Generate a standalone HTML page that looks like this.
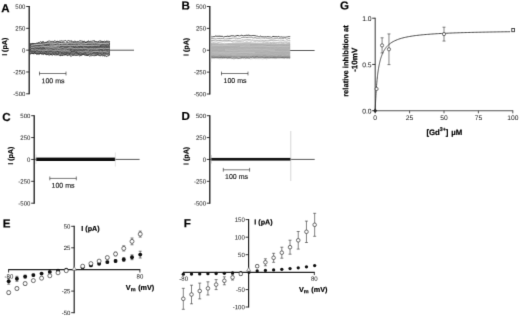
<!DOCTYPE html>
<html><head><meta charset="utf-8"><title>Figure</title>
<style>
html,body{margin:0;padding:0;background:#fff;}
body{width:520px;height:318px;overflow:hidden;font-family:"Liberation Sans",sans-serif;}
svg{display:block;}
svg text{font-family:"Liberation Sans",sans-serif;fill:#111;}
svg text[font-weight=bold]{fill:#000;stroke:#000;stroke-width:0.18px;}
</style></head><body>
<svg width="520" height="318" viewBox="0 0 520 318">
<defs><filter id="soft" x="0" y="0" width="520" height="318" filterUnits="userSpaceOnUse" color-interpolation-filters="sRGB"><feConvolveMatrix order="3" kernelMatrix="0 1 0 1 7 1 0 1 0" divisor="11" edgeMode="duplicate" preserveAlpha="true"/></filter></defs>
<g filter="url(#soft)">
<rect x="-5" y="-5" width="530" height="328" fill="#fff"/>
<line x1="29.2" y1="6.0" x2="29.2" y2="94.3" stroke="#1a1a1a" stroke-width="1.3" />
<line x1="26.2" y1="6.5" x2="29.2" y2="6.5" stroke="#222" stroke-width="0.9" />
<text x="25.4" y="8.75" font-size="6.05" text-anchor="end" transform="rotate(0.03 25.4 8.75)" >500</text>
<line x1="26.2" y1="28.325" x2="29.2" y2="28.325" stroke="#222" stroke-width="0.9" />
<text x="25.4" y="30.575" font-size="6.05" text-anchor="end" transform="rotate(0.03 25.4 30.575)" >250</text>
<line x1="26.2" y1="50.15" x2="29.2" y2="50.15" stroke="#222" stroke-width="0.9" />
<text x="25.4" y="52.4" font-size="6.05" text-anchor="end" transform="rotate(0.03 25.4 52.4)" >0</text>
<line x1="26.2" y1="71.975" x2="29.2" y2="71.975" stroke="#222" stroke-width="0.9" />
<text x="25.4" y="74.225" font-size="6.05" text-anchor="end" transform="rotate(0.03 25.4 74.225)" >-250</text>
<line x1="26.2" y1="93.8" x2="29.2" y2="93.8" stroke="#222" stroke-width="0.9" />
<text x="25.4" y="96.05" font-size="6.05" text-anchor="end" transform="rotate(0.03 25.4 96.05)" >-500</text>
<text x="1.2" y="12.3" font-size="11.6" font-weight="bold" text-anchor="start" transform="rotate(0.03 1.2 12.3)" stroke="#000" stroke-width="0.3">A</text>
<text transform="translate(7.1,46.8) rotate(-89.97)" font-size="7.1" font-weight="bold" text-anchor="middle">I (pA)</text>
<line x1="39.5" y1="73.5" x2="66" y2="73.5" stroke="#222" stroke-width="0.6" />
<line x1="39.5" y1="71.6" x2="39.5" y2="75.4" stroke="#222" stroke-width="0.6" />
<line x1="66" y1="71.6" x2="66" y2="75.4" stroke="#222" stroke-width="0.6" />
<text x="53" y="83.3" font-size="7" text-anchor="middle" transform="rotate(0.03 53 83.3)" fill="#000" stroke="#000" stroke-width="0.12">100 ms</text>
<line x1="109.5" y1="50.2" x2="134" y2="50.2" stroke="#111" stroke-width="0.7" />
<path d="M30.0,43.39 L30.8,43.83 L31.6,43.20 L32.4,43.52 L33.2,42.95 L34.0,43.35 L34.8,43.82 L35.6,43.40 L36.4,44.07 L37.2,43.14 L38.0,42.96 L38.8,42.67 L39.6,42.73 L40.4,42.99 L41.2,42.09 L42.0,41.69 L42.8,41.43 L43.6,41.51 L44.4,42.92 L45.2,42.65 L46.0,42.14 L46.8,41.90 L47.6,41.75 L48.4,41.77 L49.2,42.19 L50.0,41.95 L50.8,41.94 L51.6,41.96 L52.4,42.10 L53.2,41.73 L54.0,41.80 L54.8,42.12 L55.6,41.93 L56.4,41.74 L57.2,41.58 L58.0,41.07 L58.8,41.47 L59.6,41.81 L60.4,41.92 L61.2,41.79 L62.0,42.24 L62.8,41.71 L63.6,41.77 L64.4,41.93 L65.2,42.67 L66.0,42.24 L66.8,41.94 L67.6,41.75 L68.4,42.10 L69.2,41.95 L70.0,41.59 L70.8,42.03 L71.6,41.19 L72.4,41.52 L73.2,42.08 L74.0,41.88 L74.8,41.58 L75.6,41.94 L76.4,42.09 L77.2,41.69 L78.0,42.53 L78.8,42.18 L79.6,41.98 L80.4,41.60 L81.2,41.97 L82.0,42.11 L82.8,41.27 L83.6,41.25 L84.4,41.66 L85.2,41.94 L86.0,41.69 L86.8,41.86 L87.6,41.60 L88.4,41.23 L89.2,41.98 L90.0,41.62 L90.8,41.71 L91.6,42.45 L92.4,41.66 L93.2,42.10 L94.0,41.27 L94.8,41.01 L95.6,41.78 L96.4,41.58 L97.2,41.48 L98.0,41.61 L98.8,41.26 L99.6,41.89 L100.4,41.17 L101.2,41.57 L102.0,41.22 L102.8,40.85 L103.6,41.58 L104.4,42.20 L105.2,41.70 L106.0,41.41 L106.8,40.76 L107.6,41.59 L108.4,41.95 L109.2,41.42 L110.0,41.21 L110.0,55.58 L109.2,55.20 L108.4,55.50 L107.6,55.10 L106.8,55.12 L106.0,55.21 L105.2,55.70 L104.4,55.90 L103.6,55.70 L102.8,55.04 L102.0,55.26 L101.2,55.50 L100.4,55.44 L99.6,55.55 L98.8,55.47 L98.0,55.20 L97.2,55.73 L96.4,55.70 L95.6,55.51 L94.8,55.75 L94.0,54.75 L93.2,54.95 L92.4,54.73 L91.6,54.94 L90.8,55.54 L90.0,55.01 L89.2,54.90 L88.4,55.36 L87.6,55.89 L86.8,55.66 L86.0,55.58 L85.2,55.20 L84.4,55.33 L83.6,54.99 L82.8,55.30 L82.0,55.48 L81.2,55.50 L80.4,55.55 L79.6,55.18 L78.8,54.67 L78.0,55.22 L77.2,54.91 L76.4,55.15 L75.6,55.06 L74.8,54.88 L74.0,54.75 L73.2,55.51 L72.4,55.15 L71.6,54.78 L70.8,54.94 L70.0,56.02 L69.2,55.06 L68.4,54.59 L67.6,54.95 L66.8,55.19 L66.0,55.59 L65.2,55.34 L64.4,54.70 L63.6,54.81 L62.8,55.65 L62.0,55.53 L61.2,54.88 L60.4,54.35 L59.6,54.48 L58.8,54.85 L58.0,55.00 L57.2,54.99 L56.4,55.16 L55.6,54.59 L54.8,54.73 L54.0,54.85 L53.2,54.38 L52.4,54.63 L51.6,54.95 L50.8,54.88 L50.0,54.72 L49.2,54.78 L48.4,54.43 L47.6,54.51 L46.8,54.72 L46.0,54.70 L45.2,54.65 L44.4,54.02 L43.6,54.00 L42.8,54.25 L42.0,53.94 L41.2,54.14 L40.4,54.11 L39.6,54.62 L38.8,54.42 L38.0,54.02 L37.2,54.44 L36.4,54.28 L35.6,54.01 L34.8,53.56 L34.0,53.45 L33.2,54.24 L32.4,53.77 L31.6,53.48 L30.8,53.38 L30.0,53.04 Z" fill="#858585"/>
<path d="M30.0,43.94 L30.7,43.65 L31.4,43.79 L32.1,43.32 L32.8,43.78 L33.5,43.74 L34.2,43.65 L34.9,43.49 L35.6,43.52 L36.3,43.34 L37.0,42.74 L37.7,43.10 L38.4,42.54 L39.1,42.79 L39.8,42.05 L40.5,41.70 L41.2,42.13 L41.9,42.33 L42.6,41.85 L43.3,41.80 L44.0,42.07 L44.7,42.54 L45.4,42.32 L46.1,42.93 L46.8,41.70 L47.5,41.51 L48.2,41.14 L48.9,41.26 L49.6,41.02 L50.3,41.38 L51.0,41.31 L51.7,41.44 L52.4,41.34 L53.1,41.84 L53.8,41.28 L54.5,40.96 L55.2,40.69 L55.9,41.61 L56.6,41.46 L57.3,41.27 L58.0,41.35 L58.7,41.83 L59.4,41.18 L60.1,41.11 L60.8,41.02 L61.5,40.84 L62.2,41.31 L62.9,40.81 L63.6,41.15 L64.3,40.95 L65.0,40.72 L65.7,40.53 L66.4,41.36 L67.1,40.96 L67.8,41.08 L68.5,40.55 L69.2,40.81 L69.9,41.19 L70.6,41.03 L71.3,41.17 L72.0,40.75 L72.7,41.45 L73.4,41.86 L74.1,41.57 L74.8,40.81 L75.5,41.86 L76.2,41.80 L76.9,41.79 L77.6,41.43 L78.3,41.72 L79.0,40.98 L79.7,40.95 L80.4,40.80 L81.1,40.98 L81.8,41.14 L82.5,41.26 L83.2,41.73 L83.9,41.01 L84.6,41.23 L85.3,42.25 L86.0,42.64 L86.7,41.70 L87.4,41.88 L88.1,40.79 L88.8,41.01 L89.5,41.91 L90.2,41.50 L90.9,41.12 L91.6,41.30 L92.3,41.15 L93.0,40.76 L93.7,40.81 L94.4,40.74 L95.1,41.09 L95.8,42.15 L96.5,41.68 L97.2,42.17 L97.9,41.82 L98.6,41.40 L99.3,41.12 L100.0,40.72 L100.7,40.96 L101.4,41.24 L102.1,41.93 L102.8,41.76 L103.5,41.54 L104.2,41.32 L104.9,41.19 L105.6,41.80 L106.3,41.07 L107.0,40.96 L107.7,41.31 L108.4,41.27 L109.1,41.50 L109.8,41.57" fill="none" stroke="#1c1c1c" stroke-width="0.8"/>
<path d="M30.0,44.90 L30.7,44.57 L31.4,44.71 L32.1,43.87 L32.8,43.96 L33.5,44.03 L34.2,43.81 L34.9,44.67 L35.6,44.56 L36.3,43.89 L37.0,43.78 L37.7,43.84 L38.4,44.02 L39.1,44.22 L39.8,43.82 L40.5,43.71 L41.2,43.32 L41.9,43.34 L42.6,43.24 L43.3,44.05 L44.0,43.98 L44.7,43.65 L45.4,43.25 L46.1,43.85 L46.8,43.45 L47.5,42.99 L48.2,42.67 L48.9,42.99 L49.6,43.00 L50.3,43.09 L51.0,43.29 L51.7,43.28 L52.4,43.52 L53.1,42.69 L53.8,43.29 L54.5,43.09 L55.2,42.29 L55.9,42.70 L56.6,42.59 L57.3,43.16 L58.0,43.42 L58.7,42.94 L59.4,43.08 L60.1,42.34 L60.8,42.38 L61.5,43.20 L62.2,42.59 L62.9,42.58 L63.6,43.03 L64.3,43.13 L65.0,43.30 L65.7,43.32 L66.4,43.49 L67.1,42.46 L67.8,42.63 L68.5,42.44 L69.2,42.32 L69.9,42.26 L70.6,42.55 L71.3,42.43 L72.0,42.89 L72.7,43.27 L73.4,43.04 L74.1,43.31 L74.8,42.27 L75.5,42.69 L76.2,42.86 L76.9,42.95 L77.6,42.67 L78.3,42.92 L79.0,43.27 L79.7,42.99 L80.4,43.13 L81.1,43.09 L81.8,43.35 L82.5,42.24 L83.2,42.36 L83.9,43.59 L84.6,43.38 L85.3,42.72 L86.0,42.82 L86.7,42.78 L87.4,43.36 L88.1,42.81 L88.8,42.79 L89.5,43.07 L90.2,42.99 L90.9,43.32 L91.6,42.30 L92.3,42.64 L93.0,43.27 L93.7,43.88 L94.4,43.80 L95.1,43.68 L95.8,43.29 L96.5,42.72 L97.2,43.33 L97.9,43.32 L98.6,43.18 L99.3,43.18 L100.0,43.13 L100.7,42.53 L101.4,43.17 L102.1,42.96 L102.8,43.27 L103.5,42.56 L104.2,42.47 L104.9,43.09 L105.6,42.15 L106.3,42.83 L107.0,43.31 L107.7,43.07 L108.4,42.63 L109.1,43.99 L109.8,43.54" fill="none" stroke="#2c2c2c" stroke-width="0.62"/>
<path d="M30.0,45.74 L30.7,45.51 L31.4,45.61 L32.1,45.33 L32.8,45.59 L33.5,45.60 L34.2,46.08 L34.9,45.74 L35.6,45.68 L36.3,45.68 L37.0,45.20 L37.7,45.44 L38.4,45.55 L39.1,45.60 L39.8,45.48 L40.5,45.16 L41.2,45.42 L41.9,44.63 L42.6,44.74 L43.3,44.51 L44.0,44.56 L44.7,44.18 L45.4,45.07 L46.1,44.49 L46.8,44.83 L47.5,44.38 L48.2,44.72 L48.9,43.89 L49.6,44.29 L50.3,44.71 L51.0,44.91 L51.7,44.41 L52.4,44.85 L53.1,45.12 L53.8,44.56 L54.5,44.89 L55.2,44.51 L55.9,44.77 L56.6,44.09 L57.3,43.98 L58.0,44.06 L58.7,45.17 L59.4,45.57 L60.1,44.70 L60.8,44.46 L61.5,45.53 L62.2,45.27 L62.9,45.52 L63.6,45.01 L64.3,44.98 L65.0,45.00 L65.7,44.74 L66.4,45.00 L67.1,45.78 L67.8,45.05 L68.5,44.52 L69.2,44.25 L69.9,44.48 L70.6,44.76 L71.3,45.01 L72.0,44.65 L72.7,44.39 L73.4,44.22 L74.1,44.38 L74.8,44.40 L75.5,45.01 L76.2,44.44 L76.9,44.07 L77.6,44.28 L78.3,43.18 L79.0,44.16 L79.7,43.99 L80.4,43.43 L81.1,43.46 L81.8,43.24 L82.5,43.81 L83.2,43.92 L83.9,44.03 L84.6,44.14 L85.3,44.09 L86.0,44.52 L86.7,44.04 L87.4,44.77 L88.1,44.29 L88.8,44.24 L89.5,44.36 L90.2,45.17 L90.9,44.30 L91.6,43.74 L92.3,44.23 L93.0,43.53 L93.7,44.56 L94.4,44.87 L95.1,44.69 L95.8,44.64 L96.5,44.53 L97.2,45.03 L97.9,44.50 L98.6,44.39 L99.3,45.26 L100.0,44.79 L100.7,45.58 L101.4,44.80 L102.1,44.52 L102.8,44.75 L103.5,44.82 L104.2,44.47 L104.9,45.31 L105.6,45.11 L106.3,45.19 L107.0,45.08 L107.7,44.75 L108.4,45.23 L109.1,44.80 L109.8,44.24" fill="none" stroke="#2c2c2c" stroke-width="0.62"/>
<path d="M30.0,46.96 L30.7,47.09 L31.4,46.96 L32.1,47.10 L32.8,46.59 L33.5,46.36 L34.2,46.93 L34.9,46.91 L35.6,47.29 L36.3,46.95 L37.0,47.80 L37.7,46.84 L38.4,46.64 L39.1,46.36 L39.8,46.54 L40.5,46.85 L41.2,46.68 L41.9,46.55 L42.6,46.93 L43.3,46.82 L44.0,46.05 L44.7,45.66 L45.4,45.82 L46.1,45.57 L46.8,45.65 L47.5,46.02 L48.2,45.38 L48.9,45.53 L49.6,46.01 L50.3,46.04 L51.0,45.81 L51.7,45.35 L52.4,45.78 L53.1,45.99 L53.8,46.18 L54.5,46.06 L55.2,45.56 L55.9,45.10 L56.6,45.71 L57.3,46.36 L58.0,45.88 L58.7,46.05 L59.4,46.94 L60.1,46.16 L60.8,46.25 L61.5,46.48 L62.2,46.71 L62.9,46.12 L63.6,46.19 L64.3,46.88 L65.0,46.77 L65.7,46.93 L66.4,46.92 L67.1,47.00 L67.8,46.51 L68.5,46.53 L69.2,45.80 L69.9,46.27 L70.6,45.71 L71.3,46.31 L72.0,46.46 L72.7,46.16 L73.4,46.12 L74.1,47.49 L74.8,46.89 L75.5,46.65 L76.2,46.20 L76.9,45.41 L77.6,45.66 L78.3,46.50 L79.0,46.79 L79.7,46.46 L80.4,46.11 L81.1,46.51 L81.8,46.69 L82.5,45.95 L83.2,45.70 L83.9,46.14 L84.6,46.51 L85.3,46.63 L86.0,46.68 L86.7,46.48 L87.4,47.06 L88.1,46.92 L88.8,46.59 L89.5,46.35 L90.2,46.38 L90.9,46.55 L91.6,45.88 L92.3,46.08 L93.0,46.14 L93.7,46.60 L94.4,46.49 L95.1,46.47 L95.8,46.27 L96.5,47.04 L97.2,46.49 L97.9,46.34 L98.6,46.19 L99.3,46.54 L100.0,46.40 L100.7,46.31 L101.4,46.18 L102.1,46.19 L102.8,46.13 L103.5,46.41 L104.2,46.33 L104.9,46.08 L105.6,46.40 L106.3,46.34 L107.0,46.41 L107.7,46.95 L108.4,46.01 L109.1,46.50 L109.8,45.92" fill="none" stroke="#2c2c2c" stroke-width="0.62"/>
<path d="M30.0,48.39 L30.7,47.72 L31.4,48.06 L32.1,47.92 L32.8,47.63 L33.5,48.17 L34.2,47.90 L34.9,47.93 L35.6,47.63 L36.3,48.14 L37.0,48.10 L37.7,47.87 L38.4,48.27 L39.1,47.93 L39.8,47.89 L40.5,47.63 L41.2,48.12 L41.9,48.42 L42.6,47.73 L43.3,47.64 L44.0,48.05 L44.7,48.23 L45.4,47.97 L46.1,48.05 L46.8,47.09 L47.5,47.06 L48.2,47.91 L48.9,47.30 L49.6,47.07 L50.3,47.25 L51.0,47.67 L51.7,47.71 L52.4,47.99 L53.1,47.73 L53.8,47.92 L54.5,47.94 L55.2,47.69 L55.9,48.18 L56.6,47.75 L57.3,47.21 L58.0,46.96 L58.7,46.66 L59.4,47.53 L60.1,47.27 L60.8,47.39 L61.5,47.38 L62.2,48.28 L62.9,48.39 L63.6,47.63 L64.3,47.56 L65.0,47.65 L65.7,47.79 L66.4,47.73 L67.1,47.59 L67.8,47.86 L68.5,48.37 L69.2,48.48 L69.9,48.20 L70.6,48.50 L71.3,48.28 L72.0,48.14 L72.7,48.10 L73.4,47.90 L74.1,47.76 L74.8,47.53 L75.5,48.01 L76.2,47.52 L76.9,47.43 L77.6,47.82 L78.3,48.01 L79.0,47.67 L79.7,47.68 L80.4,46.82 L81.1,47.39 L81.8,47.28 L82.5,47.11 L83.2,48.29 L83.9,48.46 L84.6,48.06 L85.3,47.71 L86.0,47.83 L86.7,47.66 L87.4,47.18 L88.1,47.17 L88.8,47.52 L89.5,47.48 L90.2,46.99 L90.9,47.62 L91.6,47.34 L92.3,47.44 L93.0,47.54 L93.7,47.75 L94.4,47.41 L95.1,47.41 L95.8,47.24 L96.5,47.11 L97.2,47.39 L97.9,47.28 L98.6,47.54 L99.3,47.77 L100.0,47.87 L100.7,46.43 L101.4,47.31 L102.1,47.09 L102.8,47.46 L103.5,48.00 L104.2,47.46 L104.9,47.48 L105.6,48.27 L106.3,47.27 L107.0,47.37 L107.7,47.70 L108.4,47.76 L109.1,47.34 L109.8,47.38" fill="none" stroke="#2c2c2c" stroke-width="0.62"/>
<path d="M30.0,49.56 L30.7,49.47 L31.4,48.66 L32.1,49.03 L32.8,48.58 L33.5,49.10 L34.2,49.27 L34.9,49.52 L35.6,49.16 L36.3,49.14 L37.0,48.80 L37.7,48.62 L38.4,48.34 L39.1,48.30 L39.8,48.45 L40.5,48.95 L41.2,49.23 L41.9,49.02 L42.6,48.86 L43.3,48.70 L44.0,48.91 L44.7,48.64 L45.4,49.16 L46.1,48.72 L46.8,47.81 L47.5,48.60 L48.2,48.51 L48.9,49.66 L49.6,48.47 L50.3,48.86 L51.0,48.88 L51.7,48.97 L52.4,49.37 L53.1,49.45 L53.8,49.54 L54.5,49.10 L55.2,48.96 L55.9,48.42 L56.6,49.06 L57.3,48.59 L58.0,49.47 L58.7,49.13 L59.4,48.91 L60.1,48.85 L60.8,48.59 L61.5,48.79 L62.2,48.66 L62.9,48.44 L63.6,48.96 L64.3,47.89 L65.0,48.44 L65.7,48.52 L66.4,48.17 L67.1,49.51 L67.8,49.04 L68.5,49.32 L69.2,49.82 L69.9,49.51 L70.6,49.39 L71.3,49.55 L72.0,49.33 L72.7,48.75 L73.4,49.05 L74.1,49.01 L74.8,49.52 L75.5,49.38 L76.2,49.35 L76.9,49.60 L77.6,48.53 L78.3,48.84 L79.0,48.85 L79.7,49.32 L80.4,49.61 L81.1,49.52 L81.8,48.78 L82.5,48.27 L83.2,49.74 L83.9,49.63 L84.6,49.79 L85.3,49.71 L86.0,49.39 L86.7,49.15 L87.4,48.95 L88.1,48.56 L88.8,48.97 L89.5,48.87 L90.2,49.15 L90.9,49.61 L91.6,49.24 L92.3,49.77 L93.0,49.38 L93.7,49.15 L94.4,49.53 L95.1,48.78 L95.8,48.69 L96.5,48.07 L97.2,48.39 L97.9,48.96 L98.6,49.10 L99.3,49.20 L100.0,49.13 L100.7,49.63 L101.4,49.45 L102.1,49.29 L102.8,49.09 L103.5,48.40 L104.2,48.83 L104.9,48.99 L105.6,49.06 L106.3,49.46 L107.0,49.16 L107.7,49.53 L108.4,49.00 L109.1,49.88 L109.8,49.95" fill="none" stroke="#2c2c2c" stroke-width="0.62"/>
<path d="M30.0,50.03 L30.7,50.03 L31.4,50.89 L32.1,51.15 L32.8,50.40 L33.5,50.06 L34.2,49.90 L34.9,51.10 L35.6,51.06 L36.3,50.87 L37.0,49.98 L37.7,50.43 L38.4,49.85 L39.1,50.36 L39.8,50.45 L40.5,50.66 L41.2,50.47 L41.9,50.73 L42.6,50.05 L43.3,50.26 L44.0,50.17 L44.7,50.59 L45.4,51.23 L46.1,51.52 L46.8,51.27 L47.5,50.33 L48.2,50.89 L48.9,50.53 L49.6,50.86 L50.3,50.79 L51.0,50.33 L51.7,50.44 L52.4,50.38 L53.1,50.60 L53.8,50.20 L54.5,50.49 L55.2,50.67 L55.9,51.09 L56.6,50.46 L57.3,51.13 L58.0,50.83 L58.7,51.22 L59.4,50.85 L60.1,51.08 L60.8,51.11 L61.5,50.76 L62.2,50.31 L62.9,50.96 L63.6,51.18 L64.3,51.73 L65.0,51.16 L65.7,50.53 L66.4,51.14 L67.1,50.17 L67.8,50.28 L68.5,50.51 L69.2,50.43 L69.9,50.30 L70.6,50.22 L71.3,51.27 L72.0,51.54 L72.7,50.84 L73.4,50.92 L74.1,50.72 L74.8,50.56 L75.5,50.69 L76.2,51.17 L76.9,51.06 L77.6,50.09 L78.3,50.15 L79.0,50.31 L79.7,50.15 L80.4,50.36 L81.1,49.98 L81.8,50.58 L82.5,50.76 L83.2,50.89 L83.9,51.07 L84.6,50.88 L85.3,51.89 L86.0,51.54 L86.7,51.01 L87.4,51.05 L88.1,51.60 L88.8,51.79 L89.5,50.50 L90.2,50.63 L90.9,51.30 L91.6,51.04 L92.3,50.85 L93.0,50.23 L93.7,50.57 L94.4,50.64 L95.1,50.58 L95.8,50.21 L96.5,50.68 L97.2,50.62 L97.9,51.21 L98.6,50.65 L99.3,50.80 L100.0,50.48 L100.7,49.78 L101.4,50.39 L102.1,49.84 L102.8,50.91 L103.5,50.76 L104.2,50.47 L104.9,50.14 L105.6,49.86 L106.3,49.84 L107.0,50.85 L107.7,51.15 L108.4,51.16 L109.1,51.25 L109.8,50.68" fill="none" stroke="#2c2c2c" stroke-width="0.62"/>
<path d="M30.0,51.16 L30.7,51.52 L31.4,51.12 L32.1,51.65 L32.8,51.46 L33.5,51.52 L34.2,51.27 L34.9,52.12 L35.6,51.49 L36.3,51.13 L37.0,50.41 L37.7,51.37 L38.4,51.24 L39.1,51.44 L39.8,51.38 L40.5,52.16 L41.2,51.51 L41.9,51.55 L42.6,52.26 L43.3,52.06 L44.0,51.93 L44.7,52.04 L45.4,51.76 L46.1,51.76 L46.8,52.39 L47.5,51.86 L48.2,52.32 L48.9,51.89 L49.6,51.75 L50.3,51.76 L51.0,51.49 L51.7,51.62 L52.4,52.09 L53.1,52.02 L53.8,52.00 L54.5,52.19 L55.2,52.55 L55.9,51.91 L56.6,51.88 L57.3,51.41 L58.0,51.70 L58.7,52.72 L59.4,52.02 L60.1,52.18 L60.8,51.84 L61.5,52.48 L62.2,52.05 L62.9,52.38 L63.6,53.15 L64.3,52.70 L65.0,52.69 L65.7,52.37 L66.4,52.70 L67.1,52.63 L67.8,52.42 L68.5,52.88 L69.2,53.19 L69.9,53.12 L70.6,52.55 L71.3,52.18 L72.0,51.87 L72.7,51.82 L73.4,51.89 L74.1,51.91 L74.8,51.60 L75.5,52.39 L76.2,52.56 L76.9,52.17 L77.6,53.16 L78.3,53.51 L79.0,53.35 L79.7,53.20 L80.4,52.16 L81.1,51.71 L81.8,52.05 L82.5,51.11 L83.2,51.79 L83.9,52.50 L84.6,52.36 L85.3,52.41 L86.0,51.69 L86.7,51.78 L87.4,51.99 L88.1,52.11 L88.8,52.11 L89.5,51.81 L90.2,52.48 L90.9,52.20 L91.6,51.72 L92.3,51.59 L93.0,51.92 L93.7,52.09 L94.4,52.11 L95.1,52.13 L95.8,52.21 L96.5,52.20 L97.2,52.28 L97.9,52.43 L98.6,52.31 L99.3,52.18 L100.0,52.30 L100.7,52.87 L101.4,52.62 L102.1,51.55 L102.8,51.75 L103.5,52.98 L104.2,52.52 L104.9,52.51 L105.6,52.11 L106.3,52.02 L107.0,51.62 L107.7,51.29 L108.4,52.26 L109.1,52.20 L109.8,52.44" fill="none" stroke="#2c2c2c" stroke-width="0.62"/>
<path d="M30.0,52.91 L30.7,53.65 L31.4,52.81 L32.1,53.26 L32.8,53.31 L33.5,53.55 L34.2,53.67 L34.9,53.70 L35.6,53.22 L36.3,53.09 L37.0,53.34 L37.7,53.19 L38.4,53.13 L39.1,53.55 L39.8,52.92 L40.5,53.08 L41.2,53.30 L41.9,53.32 L42.6,53.14 L43.3,53.63 L44.0,53.71 L44.7,53.26 L45.4,53.48 L46.1,52.91 L46.8,53.32 L47.5,53.76 L48.2,53.69 L48.9,53.55 L49.6,53.72 L50.3,53.95 L51.0,53.79 L51.7,53.91 L52.4,53.26 L53.1,53.27 L53.8,53.84 L54.5,54.11 L55.2,53.67 L55.9,53.24 L56.6,53.44 L57.3,54.02 L58.0,53.58 L58.7,53.45 L59.4,53.95 L60.1,54.63 L60.8,54.46 L61.5,53.13 L62.2,53.55 L62.9,53.70 L63.6,53.63 L64.3,54.07 L65.0,54.52 L65.7,54.02 L66.4,53.17 L67.1,53.22 L67.8,54.06 L68.5,54.04 L69.2,53.72 L69.9,54.28 L70.6,53.62 L71.3,54.13 L72.0,53.94 L72.7,54.03 L73.4,54.26 L74.1,54.17 L74.8,53.69 L75.5,52.94 L76.2,53.02 L76.9,53.40 L77.6,53.37 L78.3,53.82 L79.0,54.21 L79.7,54.92 L80.4,54.10 L81.1,53.74 L81.8,53.82 L82.5,53.89 L83.2,53.96 L83.9,54.36 L84.6,53.81 L85.3,53.16 L86.0,53.98 L86.7,54.45 L87.4,55.08 L88.1,54.70 L88.8,54.60 L89.5,54.20 L90.2,53.86 L90.9,53.81 L91.6,54.18 L92.3,54.04 L93.0,52.98 L93.7,52.97 L94.4,53.04 L95.1,53.56 L95.8,53.64 L96.5,53.18 L97.2,53.15 L97.9,53.24 L98.6,53.67 L99.3,53.19 L100.0,53.03 L100.7,53.58 L101.4,54.08 L102.1,54.46 L102.8,53.91 L103.5,53.33 L104.2,54.24 L104.9,53.52 L105.6,53.54 L106.3,53.80 L107.0,53.80 L107.7,53.89 L108.4,53.57 L109.1,54.17 L109.8,53.66" fill="none" stroke="#2c2c2c" stroke-width="0.62"/>
<path d="M30.0,53.79 L30.7,53.99 L31.4,53.43 L32.1,53.65 L32.8,53.12 L33.5,53.70 L34.2,52.48 L34.9,52.93 L35.6,53.41 L36.3,54.00 L37.0,54.00 L37.7,53.98 L38.4,54.04 L39.1,53.91 L39.8,53.85 L40.5,53.08 L41.2,53.73 L41.9,54.27 L42.6,54.09 L43.3,54.51 L44.0,53.84 L44.7,53.69 L45.4,53.79 L46.1,54.71 L46.8,54.70 L47.5,54.56 L48.2,54.94 L48.9,54.62 L49.6,55.34 L50.3,54.53 L51.0,54.33 L51.7,54.89 L52.4,55.17 L53.1,54.74 L53.8,54.36 L54.5,54.85 L55.2,54.93 L55.9,54.89 L56.6,54.83 L57.3,54.82 L58.0,54.98 L58.7,54.86 L59.4,55.48 L60.1,55.02 L60.8,55.99 L61.5,55.42 L62.2,55.51 L62.9,55.32 L63.6,55.05 L64.3,54.79 L65.0,55.32 L65.7,54.39 L66.4,54.70 L67.1,55.55 L67.8,55.56 L68.5,55.33 L69.2,54.55 L69.9,55.46 L70.6,56.07 L71.3,56.12 L72.0,55.52 L72.7,55.36 L73.4,55.39 L74.1,55.52 L74.8,55.08 L75.5,55.52 L76.2,55.55 L76.9,55.27 L77.6,55.32 L78.3,54.93 L79.0,55.51 L79.7,55.89 L80.4,55.59 L81.1,55.38 L81.8,55.09 L82.5,54.12 L83.2,53.89 L83.9,54.33 L84.6,55.21 L85.3,55.07 L86.0,55.38 L86.7,55.38 L87.4,55.32 L88.1,55.03 L88.8,55.48 L89.5,56.03 L90.2,55.75 L90.9,55.73 L91.6,55.69 L92.3,55.56 L93.0,55.46 L93.7,55.67 L94.4,55.73 L95.1,55.42 L95.8,55.57 L96.5,55.14 L97.2,54.64 L97.9,54.52 L98.6,55.21 L99.3,55.44 L100.0,56.11 L100.7,55.64 L101.4,54.99 L102.1,55.75 L102.8,55.86 L103.5,55.62 L104.2,56.09 L104.9,55.88 L105.6,55.86 L106.3,56.31 L107.0,56.67 L107.7,55.65 L108.4,55.73 L109.1,55.12 L109.8,54.75" fill="none" stroke="#1c1c1c" stroke-width="0.8"/>
<path d="M31.0,45.17 L32.0,45.32 L33.0,45.16 L34.0,44.76 L35.0,44.63 L36.0,44.58 L37.0,44.46 L38.0,44.47 L39.0,44.42 L40.0,44.30 L41.0,44.26 L42.0,44.27 L43.0,43.97 L44.0,44.11 L45.0,43.70 L46.0,43.54 L47.0,43.37 L48.0,43.18 L49.0,43.01 L50.0,43.11 L51.0,43.18 L52.0,43.21 L53.0,43.26 L54.0,43.24 L55.0,43.42 L56.0,43.15 L57.0,43.11 L58.0,42.98 L59.0,43.40 L60.0,43.52 L61.0,43.45 L62.0,43.50 L63.0,43.15 L64.0,43.24 L65.0,43.24 L66.0,43.20 L67.0,43.29 L68.0,43.15 L69.0,42.72 L70.0,42.66 L71.0,42.68 L72.0,43.03 L73.0,43.29 L74.0,43.30 L75.0,43.08 L76.0,42.88 L77.0,43.15 L78.0,43.07 L79.0,43.42 L80.0,43.16 L81.0,43.14 L82.0,43.09 L83.0,43.23 L84.0,43.21 L85.0,43.53 L86.0,43.47 L87.0,43.46 L88.0,42.92 L89.0,43.06 L90.0,43.21 L91.0,43.04 L92.0,43.18 L93.0,43.03 L94.0,43.17 L95.0,43.14 L96.0,42.69 L97.0,42.99 L98.0,43.31 L99.0,43.38 L100.0,43.34 L101.0,43.41 L102.0,43.57 L103.0,43.24 L104.0,43.13 L105.0,43.35 L106.0,43.13 L107.0,43.21 L108.0,43.38 L109.0,43.27" fill="none" stroke="#ececec" stroke-width="0.6"/>
<path d="M50.0,44.76 L51.0,45.07 L52.0,44.82 L53.0,44.88 L54.0,45.20 L55.0,45.59 L56.0,45.57 L57.0,45.13 L58.0,44.99 L59.0,45.12 L60.0,45.55 L61.0,45.52 L62.0,45.48 L63.0,45.51 L64.0,45.47 L65.0,45.49 L66.0,45.43 L67.0,45.49 L68.0,45.44 L69.0,45.51 L70.0,45.51 L71.0,45.27 L72.0,45.50 L73.0,45.28 L74.0,45.29 L75.0,45.25 L76.0,45.31 L77.0,45.50 L78.0,45.28 L79.0,45.42 L80.0,45.23 L81.0,45.17 L82.0,45.35 L83.0,45.39 L84.0,45.36 L85.0,45.17 L86.0,45.35 L87.0,45.48 L88.0,45.84 L89.0,45.51 L90.0,45.28 L91.0,45.66 L92.0,45.11 L93.0,45.54 L94.0,45.07 L95.0,45.28 L96.0,45.16 L97.0,45.19 L98.0,45.08 L99.0,45.08 L100.0,45.27" fill="none" stroke="#d0d0d0" stroke-width="0.6"/>
<path d="M31.0,47.65 L32.0,47.45 L33.0,47.26 L34.0,47.24 L35.0,46.97 L36.0,46.98 L37.0,47.11 L38.0,47.02 L39.0,46.92 L40.0,46.84 L41.0,46.53 L42.0,46.82 L43.0,46.59 L44.0,46.48 L45.0,46.45 L46.0,46.38 L47.0,46.37 L48.0,46.42 L49.0,46.35 L50.0,46.18 L51.0,46.15 L52.0,45.90 L53.0,46.13 L54.0,46.39 L55.0,46.40 L56.0,45.96 L57.0,46.06 L58.0,46.14 L59.0,46.24 L60.0,46.34" fill="none" stroke="#d0d0d0" stroke-width="0.6"/>
<path d="M45.0,48.15 L46.0,47.85 L47.0,47.94 L48.0,47.82 L49.0,48.05 L50.0,47.64 L51.0,47.51 L52.0,47.72 L53.0,47.71 L54.0,48.08 L55.0,48.10 L56.0,47.91 L57.0,48.14 L58.0,47.93 L59.0,48.38 L60.0,48.30 L61.0,47.97 L62.0,47.89 L63.0,47.95 L64.0,47.99 L65.0,48.24 L66.0,48.25 L67.0,48.25 L68.0,48.45 L69.0,48.14 L70.0,48.12 L71.0,48.05 L72.0,48.25 L73.0,48.47 L74.0,48.51 L75.0,48.66 L76.0,48.79 L77.0,48.68 L78.0,48.50 L79.0,48.60 L80.0,48.76 L81.0,48.66 L82.0,48.41 L83.0,48.64 L84.0,48.54 L85.0,48.29 L86.0,48.29 L87.0,48.49 L88.0,48.91 L89.0,48.94 L90.0,48.66 L91.0,48.84 L92.0,48.90 L93.0,48.90 L94.0,49.05 L95.0,48.85 L96.0,48.69 L97.0,48.57 L98.0,48.48 L99.0,48.37 L100.0,48.35 L101.0,48.53 L102.0,48.57 L103.0,48.39 L104.0,48.35 L105.0,48.64 L106.0,48.78 L107.0,48.40 L108.0,48.40 L109.0,48.67" fill="none" stroke="#c4c4c4" stroke-width="0.6"/>
<path d="M31.0,49.94 L32.0,49.94 L33.0,49.91 L34.0,49.98 L35.0,50.21 L36.0,49.95 L37.0,49.85 L38.0,50.00 L39.0,50.35 L40.0,50.36 L41.0,50.18 L42.0,50.35 L43.0,50.29 L44.0,50.26 L45.0,50.34 L46.0,50.19 L47.0,50.29 L48.0,50.15 L49.0,50.18 L50.0,49.94 L51.0,50.06 L52.0,50.23 L53.0,50.29 L54.0,50.50 L55.0,50.27 L56.0,50.50 L57.0,50.23 L58.0,50.17 L59.0,50.49 L60.0,50.81 L61.0,50.95 L62.0,50.90 L63.0,50.70 L64.0,50.92 L65.0,51.08 L66.0,50.79 L67.0,50.36 L68.0,50.38 L69.0,50.25 L70.0,50.09" fill="none" stroke="#c4c4c4" stroke-width="0.6"/>
<path d="M80.0,51.63 L81.0,51.68 L82.0,51.76 L83.0,51.82 L84.0,51.89 L85.0,51.61 L86.0,51.50 L87.0,51.58 L88.0,51.74 L89.0,51.90 L90.0,52.11 L91.0,52.02 L92.0,51.82 L93.0,51.59 L94.0,51.47 L95.0,51.40 L96.0,51.45 L97.0,51.62 L98.0,51.37 L99.0,52.03 L100.0,51.88 L101.0,51.98 L102.0,51.92 L103.0,51.73 L104.0,51.76 L105.0,51.77 L106.0,51.81 L107.0,51.90 L108.0,51.93 L109.0,51.88" fill="none" stroke="#c8c8c8" stroke-width="0.6"/>
<line x1="209.8" y1="6.0" x2="209.8" y2="94.5" stroke="#1a1a1a" stroke-width="1.3" />
<line x1="206.8" y1="6.5" x2="209.8" y2="6.5" stroke="#222" stroke-width="0.9" />
<text x="206.0" y="8.75" font-size="6.05" text-anchor="end" transform="rotate(0.03 206.0 8.75)" >500</text>
<line x1="206.8" y1="28.375" x2="209.8" y2="28.375" stroke="#222" stroke-width="0.9" />
<text x="206.0" y="30.625" font-size="6.05" text-anchor="end" transform="rotate(0.03 206.0 30.625)" >250</text>
<line x1="206.8" y1="50.25" x2="209.8" y2="50.25" stroke="#222" stroke-width="0.9" />
<text x="206.0" y="52.5" font-size="6.05" text-anchor="end" transform="rotate(0.03 206.0 52.5)" >0</text>
<line x1="206.8" y1="72.125" x2="209.8" y2="72.125" stroke="#222" stroke-width="0.9" />
<text x="206.0" y="74.375" font-size="6.05" text-anchor="end" transform="rotate(0.03 206.0 74.375)" >-250</text>
<line x1="206.8" y1="94.0" x2="209.8" y2="94.0" stroke="#222" stroke-width="0.9" />
<text x="206.0" y="96.25" font-size="6.05" text-anchor="end" transform="rotate(0.03 206.0 96.25)" >-500</text>
<text x="181.4" y="9.4" font-size="11.6" font-weight="bold" text-anchor="start" transform="rotate(0.03 181.4 9.4)" stroke="#000" stroke-width="0.3">B</text>
<text transform="translate(188.6,46.9) rotate(-89.97)" font-size="7.1" font-weight="bold" text-anchor="middle">I (pA)</text>
<line x1="221.5" y1="73.5" x2="248" y2="73.5" stroke="#222" stroke-width="0.6" />
<line x1="221.5" y1="71.6" x2="221.5" y2="75.4" stroke="#222" stroke-width="0.6" />
<line x1="248" y1="71.6" x2="248" y2="75.4" stroke="#222" stroke-width="0.6" />
<text x="235" y="83.1" font-size="7" text-anchor="middle" transform="rotate(0.03 235 83.1)" fill="#000" stroke="#000" stroke-width="0.12">100 ms</text>
<line x1="290" y1="50.5" x2="314.6" y2="50.5" stroke="#111" stroke-width="0.7" />
<path d="M211.0,42.88 L211.9,42.79 L212.8,42.77 L213.7,42.70 L214.6,42.82 L215.5,42.85 L216.4,43.11 L217.3,43.08 L218.2,43.25 L219.1,43.43 L220.0,43.40 L220.9,43.19 L221.8,43.33 L222.7,43.29 L223.6,43.24 L224.5,43.43 L225.4,43.35 L226.3,43.23 L227.2,43.23 L228.1,43.11 L229.0,43.01 L229.9,42.91 L230.8,42.92 L231.7,42.93 L232.6,42.46 L233.5,42.61 L234.4,42.68 L235.3,42.59 L236.2,42.50 L237.1,42.53 L238.0,42.60 L238.9,42.57 L239.8,42.56 L240.7,42.42 L241.6,42.53 L242.5,42.41 L243.4,42.39 L244.3,42.31 L245.2,42.36 L246.1,42.21 L247.0,42.15 L247.9,42.28 L248.8,42.26 L249.7,42.20 L250.6,42.33 L251.5,42.41 L252.4,42.52 L253.3,42.53 L254.2,42.66 L255.1,42.50 L256.0,42.67 L256.9,42.70 L257.8,42.58 L258.7,42.63 L259.6,42.70 L260.5,42.87 L261.4,42.68 L262.3,42.50 L263.2,42.34 L264.1,42.58 L265.0,42.64 L265.9,42.40 L266.8,42.76 L267.7,42.60 L268.6,42.90 L269.5,43.14 L270.4,42.85 L271.3,42.93 L272.2,43.15 L273.1,43.05 L274.0,43.07 L274.9,43.32 L275.8,43.21 L276.7,43.32 L277.6,43.39 L278.5,43.24 L279.4,43.40 L280.3,43.39 L281.2,43.28 L282.1,43.35 L283.0,43.14 L283.9,43.00 L284.8,43.39 L285.7,43.46 L286.6,43.32 L287.5,43.02 L288.4,42.92 L289.3,43.12 L290.2,43.14 L290.2,57.64 L289.3,57.82 L288.4,57.86 L287.5,57.94 L286.6,57.86 L285.7,58.01 L284.8,57.99 L283.9,57.64 L283.0,57.69 L282.1,57.78 L281.2,57.90 L280.3,57.76 L279.4,57.62 L278.5,57.87 L277.6,57.53 L276.7,57.84 L275.8,57.84 L274.9,57.62 L274.0,57.78 L273.1,57.77 L272.2,57.63 L271.3,57.76 L270.4,57.66 L269.5,57.64 L268.6,57.62 L267.7,57.69 L266.8,57.63 L265.9,57.64 L265.0,57.58 L264.1,57.31 L263.2,57.34 L262.3,57.59 L261.4,57.34 L260.5,57.30 L259.6,57.24 L258.7,57.24 L257.8,57.54 L256.9,57.53 L256.0,57.57 L255.1,57.53 L254.2,57.54 L253.3,57.39 L252.4,57.33 L251.5,57.36 L250.6,57.19 L249.7,57.41 L248.8,57.51 L247.9,57.46 L247.0,57.31 L246.1,57.36 L245.2,57.54 L244.3,57.52 L243.4,57.48 L242.5,57.59 L241.6,57.99 L240.7,57.71 L239.8,57.44 L238.9,57.59 L238.0,57.49 L237.1,57.56 L236.2,57.52 L235.3,57.70 L234.4,57.67 L233.5,57.72 L232.6,57.52 L231.7,57.52 L230.8,57.56 L229.9,57.74 L229.0,57.47 L228.1,57.90 L227.2,57.66 L226.3,57.66 L225.4,57.83 L224.5,58.08 L223.6,58.20 L222.7,58.17 L221.8,57.88 L220.9,57.88 L220.0,57.44 L219.1,57.35 L218.2,57.52 L217.3,57.67 L216.4,57.82 L215.5,58.10 L214.6,57.74 L213.7,57.76 L212.8,57.78 L211.9,57.76 L211.0,57.77 Z" fill="#b7b7b7"/>
<path d="M211.0,36.82 L211.9,37.12 L212.8,36.88 L213.7,36.66 L214.6,36.57 L215.5,36.04 L216.4,36.22 L217.3,36.22 L218.2,36.25 L219.1,36.17 L220.0,36.17 L220.9,36.35 L221.8,36.34 L222.7,36.44 L223.6,37.12 L224.5,36.72 L225.4,36.50 L226.3,36.50 L227.2,36.14 L228.1,36.36 L229.0,36.33 L229.9,36.28 L230.8,35.96 L231.7,35.74 L232.6,35.83 L233.5,35.84 L234.4,36.22 L235.3,36.10 L236.2,35.88 L237.1,35.53 L238.0,35.47 L238.9,35.91 L239.8,36.08 L240.7,35.67 L241.6,35.28 L242.5,35.54 L243.4,35.95 L244.3,35.66 L245.2,35.50 L246.1,35.25 L247.0,35.32 L247.9,35.35 L248.8,35.12 L249.7,35.45 L250.6,35.67 L251.5,35.77 L252.4,35.55 L253.3,35.48 L254.2,35.57 L255.1,35.85 L256.0,35.93 L256.9,36.34 L257.8,36.21 L258.7,36.69 L259.6,36.70 L260.5,36.13 L261.4,36.55 L262.3,36.70 L263.2,36.77 L264.1,37.10 L265.0,36.68 L265.9,36.99 L266.8,37.00 L267.7,36.61 L268.6,36.75 L269.5,36.91 L270.4,37.07 L271.3,37.43 L272.2,36.91 L273.1,36.40 L274.0,36.75 L274.9,36.78 L275.8,36.75 L276.7,36.73 L277.6,36.91 L278.5,36.47 L279.4,36.97 L280.3,37.15 L281.2,36.95 L282.1,37.18 L283.0,37.20 L283.9,37.20 L284.8,37.24 L285.7,37.24 L286.6,37.07 L287.5,36.97 L288.4,36.72 L289.3,36.64 L290.2,36.48" fill="none" stroke="#2a2a2a" stroke-width="0.95"/>
<path d="M211.0,38.55 L211.9,38.69 L212.8,38.61 L213.7,38.75 L214.6,38.86 L215.5,38.90 L216.4,38.90 L217.3,38.53 L218.2,38.73 L219.1,38.35 L220.0,38.77 L220.9,38.73 L221.8,38.47 L222.7,38.67 L223.6,38.66 L224.5,39.04 L225.4,38.87 L226.3,38.99 L227.2,38.83 L228.1,38.93 L229.0,38.69 L229.9,38.57 L230.8,38.61 L231.7,38.24 L232.6,38.09 L233.5,38.06 L234.4,38.01 L235.3,38.14 L236.2,37.97 L237.1,38.35 L238.0,38.48 L238.9,38.27 L239.8,38.47 L240.7,38.37 L241.6,37.57 L242.5,37.35 L243.4,37.42 L244.3,37.35 L245.2,37.11 L246.1,37.25 L247.0,37.60 L247.9,37.23 L248.8,37.15 L249.7,37.13 L250.6,37.20 L251.5,37.24 L252.4,37.67 L253.3,38.02 L254.2,37.87 L255.1,37.62 L256.0,38.02 L256.9,38.19 L257.8,38.17 L258.7,38.24 L259.6,38.12 L260.5,37.98 L261.4,37.92 L262.3,37.94 L263.2,37.83 L264.1,38.28 L265.0,37.81 L265.9,37.89 L266.8,38.15 L267.7,38.19 L268.6,38.24 L269.5,38.72 L270.4,38.93 L271.3,39.10 L272.2,38.85 L273.1,39.09 L274.0,38.79 L274.9,38.73 L275.8,38.60 L276.7,38.36 L277.6,38.26 L278.5,38.71 L279.4,38.52 L280.3,38.76 L281.2,38.83 L282.1,38.65 L283.0,38.71 L283.9,38.58 L284.8,37.80 L285.7,38.59 L286.6,39.19 L287.5,39.04 L288.4,38.56 L289.3,38.66 L290.2,38.19" fill="none" stroke="#555" stroke-width="0.7"/>
<path d="M211.0,40.73 L211.9,40.39 L212.8,40.50 L213.7,40.41 L214.6,40.38 L215.5,40.07 L216.4,40.70 L217.3,40.52 L218.2,40.73 L219.1,40.54 L220.0,40.48 L220.9,40.38 L221.8,40.53 L222.7,40.75 L223.6,40.52 L224.5,40.67 L225.4,40.41 L226.3,40.65 L227.2,40.78 L228.1,40.62 L229.0,40.43 L229.9,40.26 L230.8,40.74 L231.7,41.26 L232.6,40.96 L233.5,40.74 L234.4,40.68 L235.3,40.05 L236.2,40.26 L237.1,40.28 L238.0,40.14 L238.9,40.41 L239.8,40.33 L240.7,40.35 L241.6,40.16 L242.5,39.91 L243.4,40.07 L244.3,40.08 L245.2,39.98 L246.1,39.80 L247.0,39.85 L247.9,39.52 L248.8,39.83 L249.7,39.54 L250.6,39.95 L251.5,40.21 L252.4,39.98 L253.3,40.34 L254.2,40.30 L255.1,40.52 L256.0,40.49 L256.9,40.38 L257.8,40.62 L258.7,40.83 L259.6,40.41 L260.5,40.23 L261.4,40.33 L262.3,40.38 L263.2,40.65 L264.1,40.77 L265.0,40.72 L265.9,40.43 L266.8,40.84 L267.7,40.80 L268.6,40.73 L269.5,40.40 L270.4,40.45 L271.3,40.37 L272.2,40.32 L273.1,40.81 L274.0,40.69 L274.9,40.69 L275.8,40.63 L276.7,40.49 L277.6,40.49 L278.5,40.60 L279.4,40.87 L280.3,40.83 L281.2,41.01 L282.1,40.82 L283.0,40.65 L283.9,40.70 L284.8,41.17 L285.7,41.11 L286.6,41.24 L287.5,40.88 L288.4,40.72 L289.3,40.77 L290.2,40.67" fill="none" stroke="#7a7a7a" stroke-width="0.7"/>
<path d="M211.0,41.72 L211.9,41.68 L212.8,41.96 L213.7,42.24 L214.6,42.01 L215.5,41.88 L216.4,41.86 L217.3,42.10 L218.2,42.46 L219.1,42.33 L220.0,41.97 L220.9,41.96 L221.8,41.81 L222.7,41.59 L223.6,41.49 L224.5,41.70 L225.4,41.49 L226.3,41.56 L227.2,41.44 L228.1,41.25 L229.0,41.37 L229.9,41.17 L230.8,41.03 L231.7,41.00 L232.6,41.16 L233.5,40.86 L234.4,40.94 L235.3,41.01 L236.2,41.13 L237.1,41.47 L238.0,41.18 L238.9,41.47 L239.8,41.33 L240.7,41.35 L241.6,41.16 L242.5,41.10 L243.4,41.14 L244.3,40.57 L245.2,40.70 L246.1,40.95 L247.0,41.26 L247.9,40.80 L248.8,40.53 L249.7,40.70 L250.6,40.97 L251.5,41.04 L252.4,40.61 L253.3,40.86 L254.2,41.26 L255.1,41.46 L256.0,41.06 L256.9,41.05 L257.8,41.01 L258.7,41.14 L259.6,41.50 L260.5,41.64 L261.4,41.31 L262.3,41.22 L263.2,41.24 L264.1,41.56 L265.0,41.63 L265.9,42.04 L266.8,42.07 L267.7,42.12 L268.6,42.07 L269.5,42.14 L270.4,42.43 L271.3,42.82 L272.2,42.53 L273.1,42.09 L274.0,42.56 L274.9,42.73 L275.8,42.80 L276.7,42.55 L277.6,42.42 L278.5,42.43 L279.4,42.44 L280.3,42.26 L281.2,42.47 L282.1,42.70 L283.0,42.69 L283.9,42.21 L284.8,42.24 L285.7,42.33 L286.6,42.44 L287.5,42.21 L288.4,42.49 L289.3,42.44 L290.2,42.19" fill="none" stroke="#999" stroke-width="0.7"/>
<path d="M211.0,37.48 L211.9,37.60 L212.8,37.60 L213.7,37.62 L214.6,37.80 L215.5,37.73 L216.4,37.91 L217.3,37.89 L218.2,37.72 L219.1,37.73 L220.0,37.60 L220.9,37.88 L221.8,37.67 L222.7,37.82 L223.6,37.70 L224.5,37.99 L225.4,38.30 L226.3,37.74 L227.2,37.49 L228.1,37.59 L229.0,37.36 L229.9,37.48 L230.8,37.60 L231.7,37.35 L232.6,37.27 L233.5,37.19 L234.4,37.17 L235.3,37.40 L236.2,37.24 L237.1,37.16 L238.0,36.92 L238.9,36.67 L239.8,36.54 L240.7,36.54 L241.6,36.67 L242.5,36.55 L243.4,36.69 L244.3,36.63 L245.2,36.26 L246.1,36.26 L247.0,36.38 L247.9,36.39 L248.8,36.49 L249.7,36.47 L250.6,36.36 L251.5,36.59 L252.4,36.61 L253.3,36.46 L254.2,36.46 L255.1,36.48 L256.0,36.71 L256.9,36.80 L257.8,37.03 L258.7,37.04 L259.6,37.23 L260.5,37.28 L261.4,37.18 L262.3,37.24 L263.2,37.32 L264.1,37.20 L265.0,37.39 L265.9,37.36 L266.8,37.60 L267.7,37.41 L268.6,37.48 L269.5,37.76 L270.4,37.66 L271.3,37.85 L272.2,37.95 L273.1,37.71 L274.0,37.87 L274.9,37.81 L275.8,37.94 L276.7,37.94 L277.6,37.89 L278.5,37.91 L279.4,37.78 L280.3,37.75 L281.2,37.82 L282.1,37.81 L283.0,37.93 L283.9,37.83 L284.8,38.03 L285.7,38.13 L286.6,37.87 L287.5,37.71 L288.4,37.70 L289.3,37.29 L290.2,37.28" fill="none" stroke="#f4f4f4" stroke-width="0.55"/>
<path d="M211.0,39.41 L211.9,39.22 L212.8,39.45 L213.7,39.62 L214.6,39.82 L215.5,39.47 L216.4,39.36 L217.3,39.49 L218.2,39.46 L219.1,39.59 L220.0,39.54 L220.9,39.50 L221.8,39.81 L222.7,39.68 L223.6,39.63 L224.5,39.61 L225.4,39.60 L226.3,39.61 L227.2,39.56 L228.1,39.71 L229.0,39.45 L229.9,39.59 L230.8,39.37 L231.7,39.37 L232.6,39.20 L233.5,39.01 L234.4,39.08 L235.3,39.14 L236.2,39.20 L237.1,39.05 L238.0,38.72 L238.9,39.00 L239.8,38.88 L240.7,38.78 L241.6,38.81 L242.5,38.68 L243.4,38.85 L244.3,38.64 L245.2,38.65 L246.1,38.90 L247.0,38.82 L247.9,38.91 L248.8,38.82 L249.7,38.85 L250.6,38.67 L251.5,39.05 L252.4,38.94 L253.3,39.03 L254.2,39.26 L255.1,39.42 L256.0,39.24 L256.9,39.20 L257.8,39.19 L258.7,39.12 L259.6,39.22 L260.5,39.19 L261.4,39.31 L262.3,39.34 L263.2,39.65 L264.1,39.66 L265.0,39.50 L265.9,39.53 L266.8,39.52 L267.7,39.37 L268.6,39.63 L269.5,39.56 L270.4,39.60 L271.3,39.67 L272.2,39.69 L273.1,39.89 L274.0,39.79 L274.9,39.73 L275.8,39.78 L276.7,39.86 L277.6,39.92 L278.5,39.85 L279.4,39.91 L280.3,39.85 L281.2,39.58 L282.1,39.77 L283.0,39.65 L283.9,39.82 L284.8,39.75 L285.7,39.98 L286.6,39.99 L287.5,39.89 L288.4,39.79 L289.3,39.59 L290.2,39.53" fill="none" stroke="#f4f4f4" stroke-width="0.55"/>
<path d="M211.0,41.37 L211.9,41.56 L212.8,41.76 L213.7,41.69 L214.6,41.76 L215.5,41.76 L216.4,41.61 L217.3,41.68 L218.2,41.77 L219.1,41.60 L220.0,41.78 L220.9,41.45 L221.8,41.43 L222.7,41.49 L223.6,41.46 L224.5,41.56 L225.4,41.70 L226.3,41.63 L227.2,41.57 L228.1,41.61 L229.0,41.33 L229.9,41.08 L230.8,40.90 L231.7,40.79 L232.6,40.94 L233.5,40.99 L234.4,40.90 L235.3,40.86 L236.2,40.92 L237.1,40.74 L238.0,40.69 L238.9,40.49 L239.8,40.70 L240.7,40.48 L241.6,40.36 L242.5,40.66 L243.4,40.40 L244.3,40.28 L245.2,40.41 L246.1,40.48 L247.0,40.52 L247.9,40.55 L248.8,40.64 L249.7,40.31 L250.6,40.45 L251.5,40.59 L252.4,40.39 L253.3,40.49 L254.2,40.71 L255.1,40.75 L256.0,40.55 L256.9,40.81 L257.8,40.79 L258.7,40.88 L259.6,40.78 L260.5,40.90 L261.4,40.79 L262.3,41.02 L263.2,41.14 L264.1,40.88 L265.0,41.25 L265.9,41.17 L266.8,41.11 L267.7,41.19 L268.6,41.38 L269.5,41.39 L270.4,41.44 L271.3,41.39 L272.2,41.34 L273.1,41.44 L274.0,41.41 L274.9,41.52 L275.8,41.41 L276.7,41.48 L277.6,41.23 L278.5,41.09 L279.4,41.39 L280.3,41.30 L281.2,41.22 L282.1,41.54 L283.0,41.58 L283.9,41.65 L284.8,41.63 L285.7,41.54 L286.6,41.53 L287.5,41.51 L288.4,41.69 L289.3,41.54 L290.2,41.41" fill="none" stroke="#f4f4f4" stroke-width="0.55"/>
<path d="M211.0,44.45 L211.9,44.52 L212.8,44.33 L213.7,44.59 L214.6,44.57 L215.5,44.56 L216.4,44.65 L217.3,44.44 L218.2,44.34 L219.1,44.35 L220.0,44.60 L220.9,44.67 L221.8,44.62 L222.7,44.70 L223.6,44.88 L224.5,44.98 L225.4,44.92 L226.3,44.93 L227.2,44.87 L228.1,44.86 L229.0,44.45 L229.9,44.61 L230.8,44.58 L231.7,44.47 L232.6,44.60 L233.5,44.79 L234.4,44.67 L235.3,44.75 L236.2,44.74 L237.1,44.63 L238.0,44.75 L238.9,44.48 L239.8,44.75 L240.7,44.37 L241.6,44.46 L242.5,43.99 L243.4,44.35 L244.3,44.39 L245.2,44.27 L246.1,44.47 L247.0,44.40 L247.9,44.30 L248.8,44.39 L249.7,44.30 L250.6,44.07 L251.5,44.38 L252.4,44.12 L253.3,44.33 L254.2,44.35 L255.1,44.38 L256.0,44.69 L256.9,44.52 L257.8,44.57 L258.7,44.59 L259.6,44.45 L260.5,44.72 L261.4,44.46 L262.3,44.27 L263.2,44.62 L264.1,45.14 L265.0,44.96 L265.9,45.01 L266.8,45.26 L267.7,45.26 L268.6,45.11 L269.5,44.86 L270.4,44.85 L271.3,44.89 L272.2,45.11 L273.1,44.95 L274.0,45.27 L274.9,45.07 L275.8,44.91 L276.7,44.91 L277.6,44.77 L278.5,44.42 L279.4,44.32 L280.3,44.63 L281.2,44.71 L282.1,44.63 L283.0,44.86 L283.9,44.98 L284.8,44.75 L285.7,44.53 L286.6,44.88 L287.5,44.69 L288.4,44.86 L289.3,44.64 L290.2,44.52" fill="none" stroke="#a2a2a2" stroke-width="0.45"/>
<path d="M211.0,46.10 L211.9,45.96 L212.8,45.82 L213.7,45.72 L214.6,46.06 L215.5,46.12 L216.4,46.10 L217.3,46.15 L218.2,46.42 L219.1,46.30 L220.0,46.22 L220.9,46.16 L221.8,46.16 L222.7,46.04 L223.6,46.33 L224.5,46.33 L225.4,46.37 L226.3,46.32 L227.2,46.49 L228.1,46.48 L229.0,45.97 L229.9,46.03 L230.8,45.76 L231.7,46.07 L232.6,45.87 L233.5,46.00 L234.4,46.01 L235.3,45.75 L236.2,45.76 L237.1,45.78 L238.0,45.58 L238.9,45.40 L239.8,45.67 L240.7,45.70 L241.6,45.60 L242.5,45.57 L243.4,45.38 L244.3,45.46 L245.2,45.79 L246.1,45.63 L247.0,45.49 L247.9,45.58 L248.8,45.74 L249.7,45.83 L250.6,45.32 L251.5,45.54 L252.4,45.62 L253.3,45.66 L254.2,45.68 L255.1,45.83 L256.0,45.79 L256.9,45.89 L257.8,46.30 L258.7,46.53 L259.6,46.41 L260.5,46.29 L261.4,46.42 L262.3,46.65 L263.2,46.48 L264.1,46.19 L265.0,46.42 L265.9,46.18 L266.8,46.00 L267.7,45.61 L268.6,45.74 L269.5,45.58 L270.4,45.70 L271.3,46.06 L272.2,46.13 L273.1,46.11 L274.0,46.23 L274.9,46.15 L275.8,46.09 L276.7,46.22 L277.6,46.20 L278.5,46.21 L279.4,46.17 L280.3,46.15 L281.2,46.43 L282.1,45.98 L283.0,46.04 L283.9,45.80 L284.8,45.87 L285.7,46.14 L286.6,46.02 L287.5,46.03 L288.4,45.98 L289.3,45.71 L290.2,46.00" fill="none" stroke="#a2a2a2" stroke-width="0.45"/>
<path d="M211.0,47.74 L211.9,47.79 L212.8,47.63 L213.7,47.78 L214.6,47.64 L215.5,47.71 L216.4,47.72 L217.3,47.71 L218.2,47.51 L219.1,47.51 L220.0,47.53 L220.9,47.64 L221.8,47.62 L222.7,47.69 L223.6,47.66 L224.5,47.79 L225.4,47.51 L226.3,47.62 L227.2,47.55 L228.1,47.48 L229.0,47.64 L229.9,47.40 L230.8,47.15 L231.7,47.13 L232.6,47.30 L233.5,47.34 L234.4,47.36 L235.3,47.17 L236.2,47.49 L237.1,47.28 L238.0,46.92 L238.9,46.88 L239.8,46.93 L240.7,47.21 L241.6,47.04 L242.5,47.13 L243.4,47.11 L244.3,47.34 L245.2,46.92 L246.1,47.06 L247.0,47.03 L247.9,47.07 L248.8,47.03 L249.7,46.72 L250.6,46.91 L251.5,47.28 L252.4,47.16 L253.3,47.12 L254.2,47.13 L255.1,47.46 L256.0,47.51 L256.9,47.28 L257.8,47.66 L258.7,47.44 L259.6,47.74 L260.5,47.78 L261.4,47.61 L262.3,47.73 L263.2,47.73 L264.1,47.57 L265.0,47.40 L265.9,47.16 L266.8,47.27 L267.7,47.41 L268.6,47.59 L269.5,47.69 L270.4,47.37 L271.3,47.67 L272.2,47.50 L273.1,47.59 L274.0,47.40 L274.9,47.10 L275.8,47.41 L276.7,47.36 L277.6,47.70 L278.5,47.88 L279.4,47.67 L280.3,47.60 L281.2,47.47 L282.1,47.17 L283.0,47.42 L283.9,47.28 L284.8,47.31 L285.7,47.24 L286.6,47.25 L287.5,47.32 L288.4,47.39 L289.3,47.53 L290.2,47.24" fill="none" stroke="#a2a2a2" stroke-width="0.45"/>
<path d="M211.0,49.02 L211.9,49.01 L212.8,48.99 L213.7,49.07 L214.6,49.16 L215.5,49.32 L216.4,49.20 L217.3,49.00 L218.2,48.88 L219.1,48.75 L220.0,48.81 L220.9,48.96 L221.8,48.91 L222.7,49.13 L223.6,48.99 L224.5,49.10 L225.4,48.86 L226.3,48.99 L227.2,49.04 L228.1,48.95 L229.0,49.30 L229.9,49.01 L230.8,49.16 L231.7,49.39 L232.6,49.47 L233.5,49.23 L234.4,48.97 L235.3,49.21 L236.2,49.34 L237.1,49.36 L238.0,49.15 L238.9,49.06 L239.8,48.92 L240.7,49.14 L241.6,48.92 L242.5,48.93 L243.4,49.17 L244.3,49.26 L245.2,49.07 L246.1,49.28 L247.0,49.24 L247.9,49.17 L248.8,49.15 L249.7,48.94 L250.6,49.23 L251.5,49.37 L252.4,49.18 L253.3,49.34 L254.2,49.29 L255.1,49.10 L256.0,49.22 L256.9,49.33 L257.8,49.07 L258.7,49.07 L259.6,49.35 L260.5,49.34 L261.4,49.26 L262.3,49.09 L263.2,48.99 L264.1,48.93 L265.0,49.02 L265.9,49.11 L266.8,49.21 L267.7,49.09 L268.6,49.10 L269.5,49.17 L270.4,49.18 L271.3,49.16 L272.2,48.98 L273.1,48.83 L274.0,49.06 L274.9,49.30 L275.8,49.22 L276.7,49.11 L277.6,49.31 L278.5,49.13 L279.4,49.22 L280.3,49.39 L281.2,49.18 L282.1,49.28 L283.0,49.28 L283.9,49.21 L284.8,49.30 L285.7,49.22 L286.6,49.05 L287.5,49.14 L288.4,48.81 L289.3,48.74 L290.2,48.75" fill="none" stroke="#a2a2a2" stroke-width="0.45"/>
<path d="M211.0,50.80 L211.9,50.67 L212.8,50.79 L213.7,50.54 L214.6,50.56 L215.5,50.59 L216.4,50.48 L217.3,50.48 L218.2,50.71 L219.1,50.73 L220.0,50.81 L220.9,50.54 L221.8,50.75 L222.7,50.52 L223.6,50.45 L224.5,50.42 L225.4,50.67 L226.3,50.89 L227.2,51.11 L228.1,50.87 L229.0,50.64 L229.9,50.58 L230.8,50.62 L231.7,50.94 L232.6,50.68 L233.5,50.47 L234.4,50.34 L235.3,50.15 L236.2,50.31 L237.1,50.12 L238.0,50.30 L238.9,50.44 L239.8,50.19 L240.7,50.39 L241.6,49.99 L242.5,49.88 L243.4,49.90 L244.3,49.99 L245.2,49.91 L246.1,49.81 L247.0,49.85 L247.9,49.84 L248.8,50.26 L249.7,50.20 L250.6,50.31 L251.5,50.24 L252.4,50.13 L253.3,50.28 L254.2,50.43 L255.1,50.71 L256.0,50.65 L256.9,50.85 L257.8,50.63 L258.7,50.47 L259.6,50.54 L260.5,50.44 L261.4,50.24 L262.3,50.31 L263.2,50.31 L264.1,50.41 L265.0,50.52 L265.9,50.62 L266.8,50.50 L267.7,50.62 L268.6,50.52 L269.5,50.91 L270.4,50.65 L271.3,50.43 L272.2,50.35 L273.1,50.67 L274.0,50.36 L274.9,50.38 L275.8,50.30 L276.7,50.25 L277.6,50.34 L278.5,50.35 L279.4,50.51 L280.3,50.66 L281.2,50.39 L282.1,50.94 L283.0,51.05 L283.9,50.78 L284.8,50.56 L285.7,50.66 L286.6,50.44 L287.5,50.59 L288.4,50.52 L289.3,50.35 L290.2,50.14" fill="none" stroke="#a2a2a2" stroke-width="0.45"/>
<path d="M211.0,52.23 L211.9,52.36 L212.8,52.32 L213.7,52.17 L214.6,52.10 L215.5,52.24 L216.4,52.34 L217.3,52.17 L218.2,52.15 L219.1,51.92 L220.0,51.83 L220.9,51.87 L221.8,51.95 L222.7,52.18 L223.6,52.11 L224.5,51.82 L225.4,52.28 L226.3,52.13 L227.2,52.00 L228.1,52.04 L229.0,51.81 L229.9,52.21 L230.8,52.01 L231.7,52.08 L232.6,52.30 L233.5,52.37 L234.4,51.97 L235.3,51.92 L236.2,52.17 L237.1,51.92 L238.0,51.91 L238.9,51.83 L239.8,51.94 L240.7,52.27 L241.6,52.29 L242.5,52.16 L243.4,52.34 L244.3,52.47 L245.2,52.20 L246.1,52.19 L247.0,52.05 L247.9,52.26 L248.8,52.22 L249.7,52.33 L250.6,52.22 L251.5,52.22 L252.4,52.19 L253.3,52.26 L254.2,52.30 L255.1,52.25 L256.0,52.25 L256.9,52.17 L257.8,52.21 L258.7,51.93 L259.6,52.07 L260.5,52.31 L261.4,52.47 L262.3,52.38 L263.2,52.09 L264.1,52.12 L265.0,52.17 L265.9,51.88 L266.8,51.74 L267.7,51.72 L268.6,52.03 L269.5,52.03 L270.4,52.32 L271.3,52.51 L272.2,52.29 L273.1,52.68 L274.0,52.83 L274.9,52.57 L275.8,52.49 L276.7,52.64 L277.6,52.49 L278.5,52.59 L279.4,52.73 L280.3,52.67 L281.2,52.52 L282.1,52.72 L283.0,52.83 L283.9,52.95 L284.8,52.53 L285.7,52.40 L286.6,52.59 L287.5,52.53 L288.4,52.75 L289.3,52.75 L290.2,52.64" fill="none" stroke="#a2a2a2" stroke-width="0.45"/>
<path d="M211.0,53.81 L211.9,53.62 L212.8,53.61 L213.7,53.74 L214.6,53.84 L215.5,53.81 L216.4,53.86 L217.3,53.56 L218.2,53.81 L219.1,54.03 L220.0,54.11 L220.9,53.97 L221.8,53.76 L222.7,53.61 L223.6,53.99 L224.5,54.14 L225.4,53.75 L226.3,53.78 L227.2,53.79 L228.1,54.00 L229.0,53.94 L229.9,53.89 L230.8,53.80 L231.7,53.71 L232.6,53.39 L233.5,53.41 L234.4,53.38 L235.3,53.52 L236.2,53.66 L237.1,53.82 L238.0,53.82 L238.9,53.89 L239.8,53.71 L240.7,53.68 L241.6,53.57 L242.5,53.65 L243.4,53.55 L244.3,53.56 L245.2,53.61 L246.1,53.54 L247.0,53.78 L247.9,53.77 L248.8,53.83 L249.7,54.14 L250.6,53.96 L251.5,53.82 L252.4,54.01 L253.3,54.19 L254.2,53.99 L255.1,54.18 L256.0,54.32 L256.9,54.43 L257.8,54.29 L258.7,54.20 L259.6,54.16 L260.5,54.11 L261.4,54.07 L262.3,54.05 L263.2,54.01 L264.1,54.12 L265.0,54.53 L265.9,54.45 L266.8,54.18 L267.7,54.02 L268.6,54.06 L269.5,54.02 L270.4,54.08 L271.3,53.65 L272.2,53.63 L273.1,53.99 L274.0,53.95 L274.9,54.50 L275.8,54.07 L276.7,54.09 L277.6,54.16 L278.5,53.85 L279.4,53.93 L280.3,54.10 L281.2,53.78 L282.1,53.88 L283.0,53.85 L283.9,53.95 L284.8,53.92 L285.7,54.07 L286.6,53.92 L287.5,53.78 L288.4,54.19 L289.3,53.96 L290.2,53.75" fill="none" stroke="#a2a2a2" stroke-width="0.45"/>
<path d="M211.0,55.25 L211.9,55.12 L212.8,55.19 L213.7,55.43 L214.6,55.29 L215.5,55.48 L216.4,55.29 L217.3,55.24 L218.2,55.41 L219.1,55.48 L220.0,55.31 L220.9,55.52 L221.8,55.47 L222.7,55.43 L223.6,55.45 L224.5,55.67 L225.4,55.60 L226.3,55.58 L227.2,55.55 L228.1,55.55 L229.0,55.90 L229.9,55.78 L230.8,55.87 L231.7,55.65 L232.6,55.66 L233.5,55.70 L234.4,55.62 L235.3,55.84 L236.2,55.73 L237.1,55.33 L238.0,55.33 L238.9,55.46 L239.8,55.10 L240.7,55.40 L241.6,55.32 L242.5,55.39 L243.4,55.18 L244.3,55.01 L245.2,55.38 L246.1,55.60 L247.0,55.46 L247.9,55.01 L248.8,55.17 L249.7,55.16 L250.6,55.23 L251.5,55.43 L252.4,55.49 L253.3,55.37 L254.2,55.42 L255.1,55.31 L256.0,55.63 L256.9,55.51 L257.8,55.30 L258.7,55.07 L259.6,55.11 L260.5,55.34 L261.4,55.31 L262.3,55.39 L263.2,55.38 L264.1,55.39 L265.0,55.26 L265.9,55.33 L266.8,55.54 L267.7,55.30 L268.6,55.49 L269.5,55.46 L270.4,55.05 L271.3,55.38 L272.2,55.51 L273.1,55.43 L274.0,55.52 L274.9,55.54 L275.8,55.10 L276.7,55.04 L277.6,55.22 L278.5,55.34 L279.4,55.08 L280.3,55.15 L281.2,54.81 L282.1,54.83 L283.0,54.78 L283.9,54.84 L284.8,55.13 L285.7,55.08 L286.6,55.43 L287.5,55.58 L288.4,55.46 L289.3,55.46 L290.2,55.60" fill="none" stroke="#a2a2a2" stroke-width="0.45"/>
<path d="M212.0,43.78 L213.0,43.93 L214.0,43.78 L215.0,43.88 L216.0,44.09 L217.0,43.90 L218.0,43.97 L219.0,44.01 L220.0,43.91 L221.0,43.94 L222.0,44.18 L223.0,43.99 L224.0,44.23 L225.0,44.29 L226.0,44.21 L227.0,43.97 L228.0,43.86 L229.0,43.81 L230.0,43.78 L231.0,43.65 L232.0,43.71 L233.0,43.69 L234.0,43.41 L235.0,43.36 L236.0,43.26 L237.0,43.29 L238.0,43.32 L239.0,43.38 L240.0,43.40 L241.0,43.25 L242.0,43.22 L243.0,43.10 L244.0,43.10 L245.0,43.09 L246.0,43.00 L247.0,43.23 L248.0,43.26 L249.0,43.21 L250.0,43.32 L251.0,43.49 L252.0,43.35 L253.0,43.46 L254.0,43.36 L255.0,43.23 L256.0,43.13 L257.0,43.40 L258.0,43.36 L259.0,43.60 L260.0,43.53 L261.0,43.56 L262.0,43.53 L263.0,43.46 L264.0,43.71 L265.0,43.64 L266.0,43.70 L267.0,43.93 L268.0,43.67 L269.0,43.75 L270.0,43.83 L271.0,43.89 L272.0,44.01 L273.0,43.95 L274.0,44.02 L275.0,43.92 L276.0,43.87 L277.0,43.96 L278.0,43.78 L279.0,44.04 L280.0,43.67 L281.0,43.67 L282.0,43.79 L283.0,43.84 L284.0,43.72 L285.0,43.79 L286.0,43.75 L287.0,43.82 L288.0,43.84 L289.0,43.86" fill="none" stroke="#d4d4d4" stroke-width="0.4"/>
<path d="M212.0,45.42 L213.0,45.50 L214.0,45.43 L215.0,45.55 L216.0,45.44 L217.0,45.39 L218.0,45.68 L219.0,45.76 L220.0,45.72 L221.0,45.66 L222.0,45.68 L223.0,45.65 L224.0,45.46 L225.0,45.44 L226.0,45.55 L227.0,45.55 L228.0,45.55 L229.0,45.44 L230.0,45.34 L231.0,45.25 L232.0,45.29 L233.0,45.33 L234.0,45.31 L235.0,45.18 L236.0,45.17 L237.0,45.07 L238.0,45.17 L239.0,44.97 L240.0,45.02 L241.0,44.98 L242.0,44.88 L243.0,44.97 L244.0,45.20 L245.0,45.01 L246.0,44.85 L247.0,44.81 L248.0,44.71 L249.0,44.85 L250.0,45.06" fill="none" stroke="#d4d4d4" stroke-width="0.4"/>
<path d="M240.0,46.47 L241.0,46.44 L242.0,46.48 L243.0,46.43 L244.0,46.21 L245.0,46.13 L246.0,46.13 L247.0,45.99 L248.0,46.20 L249.0,46.22 L250.0,46.15 L251.0,46.32 L252.0,46.13 L253.0,46.06 L254.0,46.05 L255.0,46.15 L256.0,46.11 L257.0,46.11 L258.0,46.22 L259.0,46.26 L260.0,46.33 L261.0,46.31 L262.0,46.20 L263.0,46.16 L264.0,46.28 L265.0,46.43 L266.0,46.46 L267.0,46.61 L268.0,46.51 L269.0,46.59 L270.0,46.74 L271.0,46.70 L272.0,46.58 L273.0,46.78 L274.0,46.95 L275.0,46.71 L276.0,46.58 L277.0,46.58 L278.0,46.80 L279.0,46.70 L280.0,46.64 L281.0,46.53 L282.0,46.80 L283.0,46.71 L284.0,46.77 L285.0,46.72 L286.0,46.71 L287.0,46.77 L288.0,46.80 L289.0,46.48" fill="none" stroke="#d4d4d4" stroke-width="0.4"/>
<path d="M225.0,49.99 L226.0,50.06 L227.0,50.16 L228.0,50.15 L229.0,50.20 L230.0,50.19 L231.0,50.30 L232.0,50.27 L233.0,50.31 L234.0,50.24 L235.0,50.27 L236.0,50.08 L237.0,50.11 L238.0,50.08 L239.0,49.92 L240.0,49.94 L241.0,49.92 L242.0,50.01 L243.0,49.92 L244.0,49.87 L245.0,49.75 L246.0,49.68 L247.0,49.58 L248.0,49.65 L249.0,49.75 L250.0,49.94 L251.0,49.63 L252.0,49.65 L253.0,49.90 L254.0,49.86 L255.0,49.72 L256.0,49.87 L257.0,49.81 L258.0,49.77 L259.0,49.84 L260.0,49.91 L261.0,49.96 L262.0,50.00 L263.0,49.98 L264.0,49.87 L265.0,49.79 L266.0,49.85 L267.0,49.91 L268.0,49.99 L269.0,50.24 L270.0,50.14 L271.0,50.20 L272.0,50.11 L273.0,50.17 L274.0,50.22 L275.0,50.15" fill="none" stroke="#d4d4d4" stroke-width="0.4"/>
<path d="M212.0,52.86 L213.0,52.80 L214.0,52.88 L215.0,52.79 L216.0,53.00 L217.0,52.95 L218.0,53.05 L219.0,53.00 L220.0,52.95 L221.0,52.83 L222.0,52.88 L223.0,52.76 L224.0,53.00 L225.0,52.89 L226.0,52.92 L227.0,53.10 L228.0,52.99 L229.0,53.06 L230.0,52.80 L231.0,52.77 L232.0,52.86 L233.0,52.81 L234.0,52.93 L235.0,53.08 L236.0,53.01 L237.0,52.92 L238.0,52.68 L239.0,52.68 L240.0,52.63 L241.0,52.63 L242.0,52.46 L243.0,52.71 L244.0,52.66 L245.0,52.52 L246.0,52.42 L247.0,52.42 L248.0,52.48 L249.0,52.75 L250.0,52.67 L251.0,52.51 L252.0,52.55 L253.0,52.57 L254.0,52.71 L255.0,52.59" fill="none" stroke="#d4d4d4" stroke-width="0.4"/>
<path d="M211.0,56.25 L211.9,56.10 L212.8,56.32 L213.7,56.15 L214.6,56.43 L215.5,56.69 L216.4,56.78 L217.3,56.73 L218.2,56.49 L219.1,56.17 L220.0,56.19 L220.9,56.23 L221.8,56.43 L222.7,56.30 L223.6,56.41 L224.5,56.37 L225.4,56.22 L226.3,56.66 L227.2,56.69 L228.1,56.61 L229.0,56.52 L229.9,56.60 L230.8,56.26 L231.7,56.49 L232.6,56.74 L233.5,56.78 L234.4,56.60 L235.3,56.83 L236.2,56.85 L237.1,56.97 L238.0,57.00 L238.9,56.86 L239.8,56.68 L240.7,56.61 L241.6,56.57 L242.5,56.65 L243.4,56.58 L244.3,56.69 L245.2,56.61 L246.1,56.61 L247.0,56.74 L247.9,56.91 L248.8,56.52 L249.7,56.89 L250.6,56.70 L251.5,56.65 L252.4,56.46 L253.3,56.36 L254.2,56.31 L255.1,56.49 L256.0,56.49 L256.9,56.23 L257.8,56.37 L258.7,56.25 L259.6,56.31 L260.5,56.27 L261.4,56.56 L262.3,56.50 L263.2,56.19 L264.1,55.99 L265.0,56.21 L265.9,56.29 L266.8,56.52 L267.7,56.54 L268.6,56.65 L269.5,56.40 L270.4,56.27 L271.3,56.25 L272.2,56.19 L273.1,56.47 L274.0,56.59 L274.9,56.43 L275.8,56.57 L276.7,56.67 L277.6,56.48 L278.5,56.16 L279.4,56.30 L280.3,56.09 L281.2,56.12 L282.1,56.66 L283.0,56.49 L283.9,56.34 L284.8,56.32 L285.7,56.39 L286.6,56.53 L287.5,56.39 L288.4,56.43 L289.3,56.62 L290.2,56.44" fill="none" stroke="#7a7a7a" stroke-width="0.6"/>
<path d="M211.0,57.27 L211.9,57.12 L212.8,57.44 L213.7,57.43 L214.6,57.46 L215.5,57.45 L216.4,57.36 L217.3,57.40 L218.2,57.64 L219.1,57.46 L220.0,57.55 L220.9,57.29 L221.8,57.27 L222.7,57.66 L223.6,57.33 L224.5,57.51 L225.4,57.41 L226.3,57.49 L227.2,57.87 L228.1,57.74 L229.0,57.62 L229.9,57.63 L230.8,57.55 L231.7,57.94 L232.6,58.15 L233.5,58.01 L234.4,58.06 L235.3,58.06 L236.2,57.86 L237.1,57.96 L238.0,58.22 L238.9,58.33 L239.8,58.09 L240.7,57.86 L241.6,57.66 L242.5,57.41 L243.4,57.66 L244.3,57.39 L245.2,57.85 L246.1,57.78 L247.0,57.55 L247.9,57.77 L248.8,57.85 L249.7,57.93 L250.6,57.39 L251.5,57.51 L252.4,57.14 L253.3,57.31 L254.2,57.70 L255.1,57.44 L256.0,57.18 L256.9,57.15 L257.8,57.22 L258.7,57.59 L259.6,57.49 L260.5,57.46 L261.4,57.38 L262.3,57.38 L263.2,57.53 L264.1,57.66 L265.0,57.59 L265.9,57.62 L266.8,57.71 L267.7,57.57 L268.6,57.69 L269.5,57.79 L270.4,57.51 L271.3,57.64 L272.2,57.70 L273.1,57.57 L274.0,57.59 L274.9,57.59 L275.8,57.61 L276.7,57.70 L277.6,57.47 L278.5,57.37 L279.4,57.48 L280.3,57.33 L281.2,57.53 L282.1,57.47 L283.0,57.56 L283.9,57.68 L284.8,57.70 L285.7,57.44 L286.6,57.65 L287.5,57.62 L288.4,57.61 L289.3,57.72 L290.2,57.59" fill="none" stroke="#4a4a4a" stroke-width="0.75"/>
<path d="M211.0,58.31 L211.9,58.29 L212.8,58.37 L213.7,58.36 L214.6,58.40 L215.5,58.12 L216.4,58.19 L217.3,58.34 L218.2,58.22 L219.1,58.67 L220.0,58.70 L220.9,58.53 L221.8,58.66 L222.7,58.33 L223.6,58.26 L224.5,58.46 L225.4,58.29 L226.3,58.61 L227.2,58.59 L228.1,58.47 L229.0,58.37 L229.9,58.58 L230.8,58.48 L231.7,58.65 L232.6,58.58 L233.5,58.92 L234.4,58.83 L235.3,58.54 L236.2,58.33 L237.1,58.64 L238.0,58.65 L238.9,58.63 L239.8,58.54 L240.7,58.64 L241.6,58.46 L242.5,58.41 L243.4,58.46 L244.3,58.68 L245.2,58.65 L246.1,58.60 L247.0,58.44 L247.9,58.37 L248.8,58.59 L249.7,58.58 L250.6,58.87 L251.5,58.72 L252.4,58.65 L253.3,58.45 L254.2,58.33 L255.1,58.70 L256.0,58.62 L256.9,58.60 L257.8,58.65 L258.7,58.65 L259.6,58.66 L260.5,58.58 L261.4,58.66 L262.3,58.81 L263.2,58.75 L264.1,58.53 L265.0,58.61 L265.9,58.55 L266.8,58.93 L267.7,58.54 L268.6,58.19 L269.5,58.06 L270.4,58.38 L271.3,58.01 L272.2,58.18 L273.1,58.11 L274.0,58.47 L274.9,58.41 L275.8,58.60 L276.7,58.25 L277.6,58.31 L278.5,58.28 L279.4,58.32 L280.3,58.19 L281.2,58.09 L282.1,58.22 L283.0,58.33 L283.9,58.23 L284.8,58.37 L285.7,58.12 L286.6,58.23 L287.5,58.39 L288.4,58.27 L289.3,58.48 L290.2,58.35" fill="none" stroke="#888" stroke-width="0.5"/>
<line x1="211.0" y1="34.8" x2="211.0" y2="62" stroke="#c0c0c0" stroke-width="0.5" />
<line x1="34.2" y1="115.2" x2="34.2" y2="203.7" stroke="#1a1a1a" stroke-width="1.3" />
<line x1="31.200000000000003" y1="115.7" x2="34.2" y2="115.7" stroke="#222" stroke-width="0.9" />
<text x="30.400000000000002" y="117.95" font-size="6.05" text-anchor="end" transform="rotate(0.03 30.400000000000002 117.95)" >500</text>
<line x1="31.200000000000003" y1="137.575" x2="34.2" y2="137.575" stroke="#222" stroke-width="0.9" />
<text x="30.400000000000002" y="139.825" font-size="6.05" text-anchor="end" transform="rotate(0.03 30.400000000000002 139.825)" >250</text>
<line x1="31.200000000000003" y1="159.45" x2="34.2" y2="159.45" stroke="#222" stroke-width="0.9" />
<text x="30.400000000000002" y="161.7" font-size="6.05" text-anchor="end" transform="rotate(0.03 30.400000000000002 161.7)" >0</text>
<line x1="31.200000000000003" y1="181.325" x2="34.2" y2="181.325" stroke="#222" stroke-width="0.9" />
<text x="30.400000000000002" y="183.575" font-size="6.05" text-anchor="end" transform="rotate(0.03 30.400000000000002 183.575)" >-250</text>
<line x1="31.200000000000003" y1="203.2" x2="34.2" y2="203.2" stroke="#222" stroke-width="0.9" />
<text x="30.400000000000002" y="205.45" font-size="6.05" text-anchor="end" transform="rotate(0.03 30.400000000000002 205.45)" >-500</text>
<text x="2.2" y="121.0" font-size="11.6" font-weight="bold" text-anchor="start" transform="rotate(0.03 2.2 121.0)" stroke="#000" stroke-width="0.3">C</text>
<text transform="translate(12.9,155.7) rotate(-89.97)" font-size="7.1" font-weight="bold" text-anchor="middle">I (pA)</text>
<line x1="49.8" y1="178.4" x2="76.3" y2="178.4" stroke="#222" stroke-width="0.6" />
<line x1="49.8" y1="176.5" x2="49.8" y2="180.3" stroke="#222" stroke-width="0.6" />
<line x1="76.3" y1="176.5" x2="76.3" y2="180.3" stroke="#222" stroke-width="0.6" />
<text x="63" y="187.7" font-size="7" text-anchor="middle" transform="rotate(0.03 63 187.7)" fill="#000" stroke="#000" stroke-width="0.12">100 ms</text>
<line x1="34.5" y1="159.4" x2="139.6" y2="159.4" stroke="#111" stroke-width="0.7" />
<rect x="35.8" y="157.6" width="79.4" height="3.4" fill="#0c0c0c"/>
<line x1="36" y1="154.5" x2="36" y2="164" stroke="#ccc" stroke-width="0.6" />
<line x1="115.3" y1="152.5" x2="115.3" y2="166.5" stroke="#d0d0d0" stroke-width="0.6" />
<line x1="209.8" y1="115.2" x2="209.8" y2="203.7" stroke="#1a1a1a" stroke-width="1.3" />
<line x1="206.8" y1="115.7" x2="209.8" y2="115.7" stroke="#222" stroke-width="0.9" />
<text x="206.0" y="117.95" font-size="6.05" text-anchor="end" transform="rotate(0.03 206.0 117.95)" >500</text>
<line x1="206.8" y1="137.575" x2="209.8" y2="137.575" stroke="#222" stroke-width="0.9" />
<text x="206.0" y="139.825" font-size="6.05" text-anchor="end" transform="rotate(0.03 206.0 139.825)" >250</text>
<line x1="206.8" y1="159.45" x2="209.8" y2="159.45" stroke="#222" stroke-width="0.9" />
<text x="206.0" y="161.7" font-size="6.05" text-anchor="end" transform="rotate(0.03 206.0 161.7)" >0</text>
<line x1="206.8" y1="181.325" x2="209.8" y2="181.325" stroke="#222" stroke-width="0.9" />
<text x="206.0" y="183.575" font-size="6.05" text-anchor="end" transform="rotate(0.03 206.0 183.575)" >-250</text>
<line x1="206.8" y1="203.2" x2="209.8" y2="203.2" stroke="#222" stroke-width="0.9" />
<text x="206.0" y="205.45" font-size="6.05" text-anchor="end" transform="rotate(0.03 206.0 205.45)" >-500</text>
<text x="181.6" y="120.0" font-size="11.6" font-weight="bold" text-anchor="start" transform="rotate(0.03 181.6 120.0)" stroke="#000" stroke-width="0.3">D</text>
<text transform="translate(188.6,155.9) rotate(-89.97)" font-size="7.1" font-weight="bold" text-anchor="middle">I (pA)</text>
<line x1="223.3" y1="169.8" x2="249.6" y2="169.8" stroke="#222" stroke-width="0.6" />
<line x1="223.3" y1="167.9" x2="223.3" y2="171.70000000000002" stroke="#222" stroke-width="0.6" />
<line x1="249.6" y1="167.9" x2="249.6" y2="171.70000000000002" stroke="#222" stroke-width="0.6" />
<text x="236.5" y="179.1" font-size="7" text-anchor="middle" transform="rotate(0.03 236.5 179.1)" fill="#000" stroke="#000" stroke-width="0.12">100 ms</text>
<line x1="209.5" y1="159.4" x2="314.7" y2="159.4" stroke="#111" stroke-width="0.7" />
<rect x="210.8" y="157.9" width="80" height="2.7" fill="#141414"/>
<line x1="290.8" y1="131" x2="290.8" y2="181" stroke="#c4c4c4" stroke-width="0.7" />
<line x1="211.2" y1="155" x2="211.2" y2="163.5" stroke="#aaa" stroke-width="0.6" />
<line x1="8.2" y1="269.7" x2="140.3" y2="269.7" stroke="#222" stroke-width="1.25" />
<line x1="74.2" y1="225.8" x2="74.2" y2="313.2" stroke="#222" stroke-width="1.2" />
<line x1="71.2" y1="226.3" x2="74.2" y2="226.3" stroke="#222" stroke-width="0.9" />
<text x="70.4" y="228.55" font-size="6.05" text-anchor="end" transform="rotate(0.03 70.4 228.55)" >50</text>
<line x1="71.2" y1="247.8" x2="74.2" y2="247.8" stroke="#222" stroke-width="0.9" />
<text x="70.4" y="250.05" font-size="6.05" text-anchor="end" transform="rotate(0.03 70.4 250.05)" >25</text>
<line x1="71.2" y1="291.1" x2="74.2" y2="291.1" stroke="#222" stroke-width="0.9" />
<text x="70.4" y="293.35" font-size="6.05" text-anchor="end" transform="rotate(0.03 70.4 293.35)" >-25</text>
<line x1="71.2" y1="312.7" x2="74.2" y2="312.7" stroke="#222" stroke-width="0.9" />
<text x="70.4" y="314.95" font-size="6.05" text-anchor="end" transform="rotate(0.03 70.4 314.95)" >-50</text>
<line x1="8.6" y1="269.7" x2="8.6" y2="272.5" stroke="#222" stroke-width="0.9" />
<line x1="139.9" y1="269.7" x2="139.9" y2="272.5" stroke="#222" stroke-width="0.9" />
<text x="8.9" y="278.6" font-size="6.05" text-anchor="middle" transform="rotate(0.03 8.9 278.6)" >-80</text>
<text x="139.9" y="278.6" font-size="6.05" text-anchor="middle" transform="rotate(0.03 139.9 278.6)" >80</text>
<text x="2.8" y="227.6" font-size="11.6" font-weight="bold" text-anchor="start" transform="rotate(0.03 2.8 227.6)" stroke="#000" stroke-width="0.3">E</text>
<text x="81.3" y="231.0" font-size="7.15" font-weight="bold" text-anchor="start" transform="rotate(0.03 81.3 231.0)" >I (pA)</text>
<text x="125.8" y="289.9" font-size="7.25" font-weight="bold" transform="rotate(0.03 125.8 289.9)">V<tspan font-size="5.5" dy="1.3">m</tspan><tspan dy="-1.3" dx="0.6"> (mV)</tspan></text>
<line x1="8.7" y1="278.2" x2="8.7" y2="284.2" stroke="#333" stroke-width="0.6" />
<line x1="7.199999999999999" y1="278.2" x2="10.2" y2="278.2" stroke="#333" stroke-width="0.6" />
<line x1="7.199999999999999" y1="284.2" x2="10.2" y2="284.2" stroke="#333" stroke-width="0.6" />
<line x1="16.92" y1="276.3" x2="16.92" y2="281.3" stroke="#333" stroke-width="0.6" />
<line x1="15.420000000000002" y1="276.3" x2="18.42" y2="276.3" stroke="#333" stroke-width="0.6" />
<line x1="15.420000000000002" y1="281.3" x2="18.42" y2="281.3" stroke="#333" stroke-width="0.6" />
<line x1="25.14" y1="275.1" x2="25.14" y2="278.1" stroke="#333" stroke-width="0.6" />
<line x1="23.64" y1="275.1" x2="26.64" y2="275.1" stroke="#333" stroke-width="0.6" />
<line x1="23.64" y1="278.1" x2="26.64" y2="278.1" stroke="#333" stroke-width="0.6" />
<line x1="33.36" y1="274.1" x2="33.36" y2="276.1" stroke="#333" stroke-width="0.6" />
<line x1="31.86" y1="274.1" x2="34.86" y2="274.1" stroke="#333" stroke-width="0.6" />
<line x1="31.86" y1="276.1" x2="34.86" y2="276.1" stroke="#333" stroke-width="0.6" />
<line x1="107.34000000000002" y1="261.1" x2="107.34000000000002" y2="263.1" stroke="#333" stroke-width="0.6" />
<line x1="105.84000000000002" y1="261.1" x2="108.84000000000002" y2="261.1" stroke="#333" stroke-width="0.6" />
<line x1="105.84000000000002" y1="263.1" x2="108.84000000000002" y2="263.1" stroke="#333" stroke-width="0.6" />
<line x1="115.56000000000002" y1="259.8" x2="115.56000000000002" y2="262.2" stroke="#333" stroke-width="0.6" />
<line x1="114.06000000000002" y1="259.8" x2="117.06000000000002" y2="259.8" stroke="#333" stroke-width="0.6" />
<line x1="114.06000000000002" y1="262.2" x2="117.06000000000002" y2="262.2" stroke="#333" stroke-width="0.6" />
<line x1="123.78000000000002" y1="257.7" x2="123.78000000000002" y2="261.3" stroke="#333" stroke-width="0.6" />
<line x1="122.28000000000002" y1="257.7" x2="125.28000000000002" y2="257.7" stroke="#333" stroke-width="0.6" />
<line x1="122.28000000000002" y1="261.3" x2="125.28000000000002" y2="261.3" stroke="#333" stroke-width="0.6" />
<line x1="132.0" y1="254.9" x2="132.0" y2="259.7" stroke="#333" stroke-width="0.6" />
<line x1="130.5" y1="254.9" x2="133.5" y2="254.9" stroke="#333" stroke-width="0.6" />
<line x1="130.5" y1="259.7" x2="133.5" y2="259.7" stroke="#333" stroke-width="0.6" />
<line x1="140.22" y1="251.2" x2="140.22" y2="258.0" stroke="#333" stroke-width="0.6" />
<line x1="138.72" y1="251.2" x2="141.72" y2="251.2" stroke="#333" stroke-width="0.6" />
<line x1="138.72" y1="258.0" x2="141.72" y2="258.0" stroke="#333" stroke-width="0.6" />
<circle cx="8.70" cy="281.20" r="1.95" fill="#111"/>
<circle cx="16.92" cy="278.80" r="1.95" fill="#111"/>
<circle cx="25.14" cy="276.60" r="1.95" fill="#111"/>
<circle cx="33.36" cy="275.10" r="1.95" fill="#111"/>
<circle cx="41.58" cy="273.60" r="1.95" fill="#111"/>
<circle cx="49.80" cy="271.90" r="1.95" fill="#111"/>
<circle cx="58.02" cy="270.70" r="1.95" fill="#111"/>
<circle cx="66.24" cy="269.80" r="1.95" fill="#111"/>
<circle cx="82.68" cy="267.20" r="1.95" fill="#111"/>
<circle cx="90.90" cy="265.40" r="1.95" fill="#111"/>
<circle cx="99.12" cy="263.80" r="1.95" fill="#111"/>
<circle cx="107.34" cy="262.10" r="1.95" fill="#111"/>
<circle cx="115.56" cy="261.00" r="1.95" fill="#111"/>
<circle cx="123.78" cy="259.50" r="1.95" fill="#111"/>
<circle cx="132.00" cy="257.30" r="1.95" fill="#111"/>
<circle cx="140.22" cy="254.60" r="1.95" fill="#111"/>
<line x1="8.7" y1="291.1" x2="8.7" y2="294.1" stroke="#333" stroke-width="0.6" />
<line x1="7.199999999999999" y1="291.1" x2="10.2" y2="291.1" stroke="#333" stroke-width="0.6" />
<line x1="7.199999999999999" y1="294.1" x2="10.2" y2="294.1" stroke="#333" stroke-width="0.6" />
<circle cx="8.70" cy="292.60" r="2.0" fill="#fff" stroke="#333" stroke-width="0.7"/>
<line x1="16.92" y1="287.0" x2="16.92" y2="290.0" stroke="#333" stroke-width="0.6" />
<line x1="15.420000000000002" y1="287.0" x2="18.42" y2="287.0" stroke="#333" stroke-width="0.6" />
<line x1="15.420000000000002" y1="290.0" x2="18.42" y2="290.0" stroke="#333" stroke-width="0.6" />
<circle cx="16.92" cy="288.50" r="2.0" fill="#fff" stroke="#333" stroke-width="0.7"/>
<line x1="25.14" y1="282.1" x2="25.14" y2="285.1" stroke="#333" stroke-width="0.6" />
<line x1="23.64" y1="282.1" x2="26.64" y2="282.1" stroke="#333" stroke-width="0.6" />
<line x1="23.64" y1="285.1" x2="26.64" y2="285.1" stroke="#333" stroke-width="0.6" />
<circle cx="25.14" cy="283.60" r="2.0" fill="#fff" stroke="#333" stroke-width="0.7"/>
<line x1="33.36" y1="279.6" x2="33.36" y2="281.6" stroke="#333" stroke-width="0.6" />
<line x1="31.86" y1="279.6" x2="34.86" y2="279.6" stroke="#333" stroke-width="0.6" />
<line x1="31.86" y1="281.6" x2="34.86" y2="281.6" stroke="#333" stroke-width="0.6" />
<circle cx="33.36" cy="280.60" r="2.0" fill="#fff" stroke="#333" stroke-width="0.7"/>
<circle cx="41.58" cy="278.20" r="2.0" fill="#fff" stroke="#333" stroke-width="0.7"/>
<circle cx="49.80" cy="275.80" r="2.0" fill="#fff" stroke="#333" stroke-width="0.7"/>
<circle cx="58.02" cy="272.80" r="2.0" fill="#fff" stroke="#333" stroke-width="0.7"/>
<circle cx="66.24" cy="270.70" r="2.0" fill="#fff" stroke="#333" stroke-width="0.7"/>
<circle cx="82.68" cy="266.20" r="2.0" fill="#fff" stroke="#333" stroke-width="0.7"/>
<circle cx="90.90" cy="263.60" r="2.0" fill="#fff" stroke="#333" stroke-width="0.7"/>
<circle cx="99.12" cy="261.10" r="2.0" fill="#fff" stroke="#333" stroke-width="0.7"/>
<line x1="107.34000000000002" y1="256.40000000000003" x2="107.34000000000002" y2="258.8" stroke="#333" stroke-width="0.6" />
<line x1="105.84000000000002" y1="256.40000000000003" x2="108.84000000000002" y2="256.40000000000003" stroke="#333" stroke-width="0.6" />
<line x1="105.84000000000002" y1="258.8" x2="108.84000000000002" y2="258.8" stroke="#333" stroke-width="0.6" />
<circle cx="107.34" cy="257.60" r="2.0" fill="#fff" stroke="#333" stroke-width="0.7"/>
<line x1="115.56000000000002" y1="252.2" x2="115.56000000000002" y2="255.8" stroke="#333" stroke-width="0.6" />
<line x1="114.06000000000002" y1="252.2" x2="117.06000000000002" y2="252.2" stroke="#333" stroke-width="0.6" />
<line x1="114.06000000000002" y1="255.8" x2="117.06000000000002" y2="255.8" stroke="#333" stroke-width="0.6" />
<circle cx="115.56" cy="254.00" r="2.0" fill="#fff" stroke="#333" stroke-width="0.7"/>
<line x1="123.78000000000002" y1="245.8" x2="123.78000000000002" y2="251.0" stroke="#333" stroke-width="0.6" />
<line x1="122.28000000000002" y1="245.8" x2="125.28000000000002" y2="245.8" stroke="#333" stroke-width="0.6" />
<line x1="122.28000000000002" y1="251.0" x2="125.28000000000002" y2="251.0" stroke="#333" stroke-width="0.6" />
<circle cx="123.78" cy="248.40" r="2.0" fill="#fff" stroke="#333" stroke-width="0.7"/>
<line x1="132.0" y1="238.0" x2="132.0" y2="244.8" stroke="#333" stroke-width="0.6" />
<line x1="130.5" y1="238.0" x2="133.5" y2="238.0" stroke="#333" stroke-width="0.6" />
<line x1="130.5" y1="244.8" x2="133.5" y2="244.8" stroke="#333" stroke-width="0.6" />
<circle cx="132.00" cy="241.40" r="2.0" fill="#fff" stroke="#333" stroke-width="0.7"/>
<line x1="140.22" y1="231.1" x2="140.22" y2="237.1" stroke="#333" stroke-width="0.6" />
<line x1="138.72" y1="231.1" x2="141.72" y2="231.1" stroke="#333" stroke-width="0.6" />
<line x1="138.72" y1="237.1" x2="141.72" y2="237.1" stroke="#333" stroke-width="0.6" />
<circle cx="140.22" cy="234.10" r="2.0" fill="#fff" stroke="#333" stroke-width="0.7"/>
<path d="M74.2,266.6 L76.3,270.2 L72.1,270.2 Z" fill="#fff" stroke="#555" stroke-width="0.6"/>
<line x1="183.0" y1="272.3" x2="314.7" y2="272.3" stroke="#222" stroke-width="1.25" />
<line x1="248.6" y1="219.1" x2="248.6" y2="307.5" stroke="#222" stroke-width="1.2" />
<line x1="245.6" y1="219.6" x2="248.6" y2="219.6" stroke="#222" stroke-width="0.9" />
<text x="244.79999999999998" y="221.85" font-size="6.05" text-anchor="end" transform="rotate(0.03 244.79999999999998 221.85)" >150</text>
<line x1="245.6" y1="237.2" x2="248.6" y2="237.2" stroke="#222" stroke-width="0.9" />
<text x="244.79999999999998" y="239.45" font-size="6.05" text-anchor="end" transform="rotate(0.03 244.79999999999998 239.45)" >100</text>
<line x1="245.6" y1="254.7" x2="248.6" y2="254.7" stroke="#222" stroke-width="0.9" />
<text x="244.79999999999998" y="256.95" font-size="6.05" text-anchor="end" transform="rotate(0.03 244.79999999999998 256.95)" >50</text>
<line x1="245.6" y1="289.6" x2="248.6" y2="289.6" stroke="#222" stroke-width="0.9" />
<text x="244.79999999999998" y="291.85" font-size="6.05" text-anchor="end" transform="rotate(0.03 244.79999999999998 291.85)" >-50</text>
<line x1="245.6" y1="307" x2="248.6" y2="307" stroke="#222" stroke-width="0.9" />
<text x="244.79999999999998" y="309.25" font-size="6.05" text-anchor="end" transform="rotate(0.03 244.79999999999998 309.25)" >-100</text>
<line x1="183.4" y1="272.3" x2="183.4" y2="275.1" stroke="#222" stroke-width="0.9" />
<line x1="314.3" y1="272.3" x2="314.3" y2="275.1" stroke="#222" stroke-width="0.9" />
<text x="183.70000000000002" y="280.8" font-size="6.05" text-anchor="middle" transform="rotate(0.03 183.70000000000002 280.8)" >-80</text>
<text x="314.3" y="280.8" font-size="6.05" text-anchor="middle" transform="rotate(0.03 314.3 280.8)" >80</text>
<text x="183.7" y="227.2" font-size="11.6" font-weight="bold" text-anchor="start" transform="rotate(0.03 183.7 227.2)" stroke="#000" stroke-width="0.3">F</text>
<text x="254.3" y="224.6" font-size="7.15" font-weight="bold" text-anchor="start" transform="rotate(0.03 254.3 224.6)" >I (pA)</text>
<text x="299.0" y="292.0" font-size="7.25" font-weight="bold" transform="rotate(0.03 299.0 292.0)">V<tspan font-size="5.5" dy="1.3">m</tspan><tspan dy="-1.3" dx="0.6"> (mV)</tspan></text>
<circle cx="183.30" cy="274.20" r="1.65" fill="#111"/>
<circle cx="191.51" cy="274.10" r="1.65" fill="#111"/>
<circle cx="199.72" cy="273.90" r="1.65" fill="#111"/>
<circle cx="207.93" cy="273.70" r="1.65" fill="#111"/>
<circle cx="216.14" cy="273.50" r="1.65" fill="#111"/>
<circle cx="224.35" cy="273.30" r="1.65" fill="#111"/>
<circle cx="232.56" cy="273.00" r="1.65" fill="#111"/>
<circle cx="240.77" cy="272.70" r="1.65" fill="#111"/>
<circle cx="248.98" cy="272.30" r="1.65" fill="#111"/>
<circle cx="257.19" cy="270.90" r="1.65" fill="#111"/>
<circle cx="265.40" cy="270.40" r="1.65" fill="#111"/>
<circle cx="273.61" cy="269.90" r="1.65" fill="#111"/>
<circle cx="281.82" cy="269.30" r="1.65" fill="#111"/>
<circle cx="290.03" cy="268.60" r="1.65" fill="#111"/>
<circle cx="298.24" cy="267.80" r="1.65" fill="#111"/>
<circle cx="306.45" cy="266.80" r="1.65" fill="#111"/>
<circle cx="314.66" cy="265.60" r="1.65" fill="#111"/>
<line x1="183.3" y1="288.3" x2="183.3" y2="309.3" stroke="#333" stroke-width="0.6" />
<line x1="181.8" y1="288.3" x2="184.8" y2="288.3" stroke="#333" stroke-width="0.6" />
<line x1="181.8" y1="309.3" x2="184.8" y2="309.3" stroke="#333" stroke-width="0.6" />
<circle cx="183.30" cy="298.80" r="1.8" fill="#fff" stroke="#333" stroke-width="0.7"/>
<line x1="191.51000000000002" y1="285.2" x2="191.51000000000002" y2="303.8" stroke="#333" stroke-width="0.6" />
<line x1="190.01000000000002" y1="285.2" x2="193.01000000000002" y2="285.2" stroke="#333" stroke-width="0.6" />
<line x1="190.01000000000002" y1="303.8" x2="193.01000000000002" y2="303.8" stroke="#333" stroke-width="0.6" />
<circle cx="191.51" cy="294.50" r="1.8" fill="#fff" stroke="#333" stroke-width="0.7"/>
<line x1="199.72000000000003" y1="283.1" x2="199.72000000000003" y2="298.9" stroke="#333" stroke-width="0.6" />
<line x1="198.22000000000003" y1="283.1" x2="201.22000000000003" y2="283.1" stroke="#333" stroke-width="0.6" />
<line x1="198.22000000000003" y1="298.9" x2="201.22000000000003" y2="298.9" stroke="#333" stroke-width="0.6" />
<circle cx="199.72" cy="291.00" r="1.8" fill="#fff" stroke="#333" stroke-width="0.7"/>
<line x1="207.93" y1="281.79999999999995" x2="207.93" y2="295.0" stroke="#333" stroke-width="0.6" />
<line x1="206.43" y1="281.79999999999995" x2="209.43" y2="281.79999999999995" stroke="#333" stroke-width="0.6" />
<line x1="206.43" y1="295.0" x2="209.43" y2="295.0" stroke="#333" stroke-width="0.6" />
<circle cx="207.93" cy="288.40" r="1.8" fill="#fff" stroke="#333" stroke-width="0.7"/>
<line x1="216.14000000000001" y1="279.6" x2="216.14000000000001" y2="289.6" stroke="#333" stroke-width="0.6" />
<line x1="214.64000000000001" y1="279.6" x2="217.64000000000001" y2="279.6" stroke="#333" stroke-width="0.6" />
<line x1="214.64000000000001" y1="289.6" x2="217.64000000000001" y2="289.6" stroke="#333" stroke-width="0.6" />
<circle cx="216.14" cy="284.60" r="1.8" fill="#fff" stroke="#333" stroke-width="0.7"/>
<line x1="224.35000000000002" y1="276.8" x2="224.35000000000002" y2="284.8" stroke="#333" stroke-width="0.6" />
<line x1="222.85000000000002" y1="276.8" x2="225.85000000000002" y2="276.8" stroke="#333" stroke-width="0.6" />
<line x1="222.85000000000002" y1="284.8" x2="225.85000000000002" y2="284.8" stroke="#333" stroke-width="0.6" />
<circle cx="224.35" cy="280.80" r="1.8" fill="#fff" stroke="#333" stroke-width="0.7"/>
<line x1="232.56" y1="274.79999999999995" x2="232.56" y2="280.0" stroke="#333" stroke-width="0.6" />
<line x1="231.06" y1="274.79999999999995" x2="234.06" y2="274.79999999999995" stroke="#333" stroke-width="0.6" />
<line x1="231.06" y1="280.0" x2="234.06" y2="280.0" stroke="#333" stroke-width="0.6" />
<circle cx="232.56" cy="277.40" r="1.8" fill="#fff" stroke="#333" stroke-width="0.7"/>
<line x1="240.77" y1="272.4" x2="240.77" y2="275.4" stroke="#333" stroke-width="0.6" />
<line x1="239.27" y1="272.4" x2="242.27" y2="272.4" stroke="#333" stroke-width="0.6" />
<line x1="239.27" y1="275.4" x2="242.27" y2="275.4" stroke="#333" stroke-width="0.6" />
<circle cx="240.77" cy="273.90" r="1.8" fill="#fff" stroke="#333" stroke-width="0.7"/>
<line x1="257.19000000000005" y1="265.0" x2="257.19000000000005" y2="267.4" stroke="#333" stroke-width="0.6" />
<line x1="255.69000000000005" y1="265.0" x2="258.69000000000005" y2="265.0" stroke="#333" stroke-width="0.6" />
<line x1="255.69000000000005" y1="267.4" x2="258.69000000000005" y2="267.4" stroke="#333" stroke-width="0.6" />
<circle cx="257.19" cy="266.20" r="1.8" fill="#fff" stroke="#333" stroke-width="0.7"/>
<line x1="265.40000000000003" y1="258.8" x2="265.40000000000003" y2="265.8" stroke="#333" stroke-width="0.6" />
<line x1="263.90000000000003" y1="258.8" x2="266.90000000000003" y2="258.8" stroke="#333" stroke-width="0.6" />
<line x1="263.90000000000003" y1="265.8" x2="266.90000000000003" y2="265.8" stroke="#333" stroke-width="0.6" />
<circle cx="265.40" cy="262.30" r="1.8" fill="#fff" stroke="#333" stroke-width="0.7"/>
<line x1="273.61" y1="253.3" x2="273.61" y2="262.3" stroke="#333" stroke-width="0.6" />
<line x1="272.11" y1="253.3" x2="275.11" y2="253.3" stroke="#333" stroke-width="0.6" />
<line x1="272.11" y1="262.3" x2="275.11" y2="262.3" stroke="#333" stroke-width="0.6" />
<circle cx="273.61" cy="257.80" r="1.8" fill="#fff" stroke="#333" stroke-width="0.7"/>
<line x1="281.82000000000005" y1="247.2" x2="281.82000000000005" y2="258.2" stroke="#333" stroke-width="0.6" />
<line x1="280.32000000000005" y1="247.2" x2="283.32000000000005" y2="247.2" stroke="#333" stroke-width="0.6" />
<line x1="280.32000000000005" y1="258.2" x2="283.32000000000005" y2="258.2" stroke="#333" stroke-width="0.6" />
<circle cx="281.82" cy="252.70" r="1.8" fill="#fff" stroke="#333" stroke-width="0.7"/>
<line x1="290.03000000000003" y1="240.2" x2="290.03000000000003" y2="254.2" stroke="#333" stroke-width="0.6" />
<line x1="288.53000000000003" y1="240.2" x2="291.53000000000003" y2="240.2" stroke="#333" stroke-width="0.6" />
<line x1="288.53000000000003" y1="254.2" x2="291.53000000000003" y2="254.2" stroke="#333" stroke-width="0.6" />
<circle cx="290.03" cy="247.20" r="1.8" fill="#fff" stroke="#333" stroke-width="0.7"/>
<line x1="298.24" y1="231.5" x2="298.24" y2="249.10000000000002" stroke="#333" stroke-width="0.6" />
<line x1="296.74" y1="231.5" x2="299.74" y2="231.5" stroke="#333" stroke-width="0.6" />
<line x1="296.74" y1="249.10000000000002" x2="299.74" y2="249.10000000000002" stroke="#333" stroke-width="0.6" />
<circle cx="298.24" cy="240.30" r="1.8" fill="#fff" stroke="#333" stroke-width="0.7"/>
<line x1="306.45000000000005" y1="221.10000000000002" x2="306.45000000000005" y2="242.5" stroke="#333" stroke-width="0.6" />
<line x1="304.95000000000005" y1="221.10000000000002" x2="307.95000000000005" y2="221.10000000000002" stroke="#333" stroke-width="0.6" />
<line x1="304.95000000000005" y1="242.5" x2="307.95000000000005" y2="242.5" stroke="#333" stroke-width="0.6" />
<circle cx="306.45" cy="231.80" r="1.8" fill="#fff" stroke="#333" stroke-width="0.7"/>
<line x1="314.66" y1="213.3" x2="314.66" y2="236.3" stroke="#333" stroke-width="0.6" />
<line x1="313.16" y1="213.3" x2="316.16" y2="213.3" stroke="#333" stroke-width="0.6" />
<line x1="313.16" y1="236.3" x2="316.16" y2="236.3" stroke="#333" stroke-width="0.6" />
<circle cx="314.66" cy="224.80" r="1.8" fill="#fff" stroke="#333" stroke-width="0.7"/>
<path d="M248.6,267.6 L250.7,271.2 L246.5,271.2 Z" fill="#fff" stroke="#555" stroke-width="0.6"/>
<text x="340.0" y="9.4" font-size="11.6" font-weight="bold" text-anchor="start" transform="rotate(0.03 340.0 9.4)" stroke="#000" stroke-width="0.3">G</text>
<line x1="375.2" y1="17.700000000000003" x2="375.2" y2="111.2" stroke="#4a4a4a" stroke-width="1.1" />
<line x1="374.7" y1="110.7" x2="513.1999999999999" y2="110.7" stroke="#555" stroke-width="1.05" />
<line x1="372.2" y1="18.200000000000003" x2="375.2" y2="18.200000000000003" stroke="#222" stroke-width="0.9" />
<text x="371.59999999999997" y="21.1" font-size="6.8" text-anchor="end" transform="rotate(0.03 371.59999999999997 21.1)" >1.0</text>
<line x1="372.2" y1="64.45" x2="375.2" y2="64.45" stroke="#222" stroke-width="0.9" />
<text x="371.59999999999997" y="67.35000000000001" font-size="6.8" text-anchor="end" transform="rotate(0.03 371.59999999999997 67.35000000000001)" >0.5</text>
<line x1="372.2" y1="110.7" x2="375.2" y2="110.7" stroke="#222" stroke-width="0.9" />
<text x="371.59999999999997" y="113.60000000000001" font-size="6.8" text-anchor="end" transform="rotate(0.03 371.59999999999997 113.60000000000001)" >0.0</text>
<line x1="375.2" y1="110.7" x2="375.2" y2="113.3" stroke="#444" stroke-width="0.9" />
<text x="375.2" y="120.0" font-size="6.7" text-anchor="middle" transform="rotate(0.03 375.2 120.0)" >0</text>
<line x1="409.59999999999997" y1="110.7" x2="409.59999999999997" y2="113.3" stroke="#444" stroke-width="0.9" />
<text x="409.59999999999997" y="120.0" font-size="6.7" text-anchor="middle" transform="rotate(0.03 409.59999999999997 120.0)" >25</text>
<line x1="444.0" y1="110.7" x2="444.0" y2="113.3" stroke="#444" stroke-width="0.9" />
<text x="444.0" y="120.0" font-size="6.7" text-anchor="middle" transform="rotate(0.03 444.0 120.0)" >50</text>
<line x1="478.4" y1="110.7" x2="478.4" y2="113.3" stroke="#444" stroke-width="0.9" />
<text x="478.4" y="120.0" font-size="6.7" text-anchor="middle" transform="rotate(0.03 478.4 120.0)" >75</text>
<line x1="512.8" y1="110.7" x2="512.8" y2="113.3" stroke="#444" stroke-width="0.9" />
<text x="512.8" y="120.0" font-size="6.7" text-anchor="middle" transform="rotate(0.03 512.8 120.0)" >100</text>
<text transform="translate(348.2,61.0) rotate(-89.97)" font-size="7.6" font-weight="bold" text-anchor="middle">relative inhibition at</text>
<text transform="translate(357.3,59.8) rotate(-89.97)" font-size="8.0" font-weight="bold" text-anchor="middle">-10mV</text>
<text x="426.4" y="134.9" font-size="7.8" font-weight="bold" transform="rotate(0.03 426 134)">[Gd<tspan font-size="5.3" dy="-3.8">3+</tspan><tspan dy="3.8">] </tspan><tspan dx="0.5">µM</tspan></text>
<path d="M375.20,110.70 L375.34,107.19 L375.48,103.97 L375.61,101.01 L375.75,98.28 L375.89,95.75 L376.03,93.40 L376.16,91.21 L376.30,89.17 L376.44,87.26 L376.58,85.46 L376.71,83.78 L376.85,82.20 L376.99,80.71 L377.13,79.30 L377.26,77.96 L377.40,76.70 L377.54,75.50 L377.68,74.36 L377.81,73.28 L377.95,72.25 L378.09,71.26 L378.23,70.32 L378.36,69.43 L378.50,68.57 L378.64,67.75 L378.78,66.96 L378.92,66.20 L379.05,65.48 L379.19,64.78 L379.33,64.11 L379.47,63.47 L379.60,62.85 L379.74,62.25 L379.88,61.67 L380.02,61.12 L380.15,60.58 L380.29,60.06 L380.43,59.56 L380.57,59.07 L380.70,58.60 L380.84,58.15 L380.98,57.71 L381.12,57.28 L381.25,56.87 L381.39,56.46 L381.53,56.07 L381.67,55.69 L381.80,55.33 L381.94,54.97 L382.08,54.62 L382.22,54.28 L382.36,53.96 L382.49,53.63 L382.63,53.32 L382.77,53.02 L382.91,52.72 L383.04,52.44 L383.18,52.15 L383.32,51.88 L383.46,51.61 L383.59,51.35 L383.73,51.10 L383.87,50.85 L384.01,50.61 L384.14,50.37 L384.28,50.14 L384.42,49.91 L384.56,49.69 L384.69,49.47 L384.83,49.26 L384.97,49.05 L385.11,48.85 L385.24,48.65 L385.38,48.45 L385.52,48.26 L385.66,48.08 L385.80,47.89 L385.93,47.71 L386.07,47.54 L386.21,47.36 L386.35,47.20 L386.48,47.03 L386.62,46.87 L386.76,46.71 L386.90,46.55 L387.03,46.40 L387.17,46.25 L387.31,46.10 L387.45,45.95 L387.58,45.81 L387.72,45.67 L387.86,45.53 L388.00,45.40 L388.13,45.26 L388.27,45.13 L388.41,45.00 L388.55,44.88 L388.68,44.75 L388.82,44.63 L388.96,44.51 L389.10,44.39 L390.47,43.31 L391.85,42.37 L393.23,41.56 L394.60,40.85 L395.98,40.22 L397.35,39.66 L398.73,39.15 L400.11,38.70 L401.48,38.29 L402.86,37.91 L404.23,37.57 L405.61,37.26 L406.99,36.97 L408.36,36.70 L409.74,36.46 L411.11,36.23 L412.49,36.01 L413.87,35.81 L415.24,35.62 L416.62,35.45 L417.99,35.28 L419.37,35.13 L420.75,34.98 L422.12,34.84 L423.50,34.71 L424.87,34.59 L426.25,34.47 L427.63,34.36 L429.00,34.25 L430.38,34.15 L431.75,34.05 L433.13,33.96 L434.51,33.87 L435.88,33.78 L437.26,33.70 L438.63,33.63 L440.01,33.55 L441.39,33.48 L442.76,33.41 L444.14,33.34 L445.51,33.28 L446.89,33.22 L448.27,33.16 L449.64,33.10 L451.02,33.05 L452.39,32.99 L453.77,32.94 L455.15,32.89 L456.52,32.85 L457.90,32.80 L459.27,32.75 L460.65,32.71 L462.03,32.67 L463.40,32.63 L464.78,32.59 L466.15,32.55 L467.53,32.51 L468.91,32.47 L470.28,32.44 L471.66,32.40 L473.03,32.37 L474.41,32.34 L475.79,32.31 L477.16,32.28 L478.54,32.25 L479.91,32.22 L481.29,32.19 L482.67,32.16 L484.04,32.13 L485.42,32.11 L486.79,32.08 L488.17,32.05 L489.55,32.03 L490.92,32.01 L492.30,31.98 L493.67,31.96 L495.05,31.94 L496.43,31.91 L497.80,31.89 L499.18,31.87 L500.55,31.85 L501.93,31.83 L503.31,31.81 L504.68,31.79 L506.06,31.77 L507.43,31.75 L508.81,31.74 L510.19,31.72" fill="none" stroke="#3a3a3a" stroke-width="0.9"/>
<circle cx="376.58" cy="88.96" r="1.6" fill="#fff" stroke="#333" stroke-width="0.7"/>
<line x1="382.08" y1="37.81000000000001" x2="382.08" y2="52.98000000000001" stroke="#333" stroke-width="0.6" />
<line x1="380.58" y1="37.81000000000001" x2="383.58" y2="37.81000000000001" stroke="#333" stroke-width="0.6" />
<line x1="380.58" y1="52.98000000000001" x2="383.58" y2="52.98000000000001" stroke="#333" stroke-width="0.6" />
<circle cx="382.08" cy="45.40" r="1.6" fill="#fff" stroke="#333" stroke-width="0.7"/>
<line x1="388.96" y1="33.925" x2="388.96" y2="64.635" stroke="#333" stroke-width="0.6" />
<line x1="387.46" y1="33.925" x2="390.46" y2="33.925" stroke="#333" stroke-width="0.6" />
<line x1="387.46" y1="64.635" x2="390.46" y2="64.635" stroke="#333" stroke-width="0.6" />
<circle cx="388.96" cy="49.28" r="1.6" fill="#fff" stroke="#333" stroke-width="0.7"/>
<line x1="444.0" y1="27.172500000000014" x2="444.0" y2="41.047500000000014" stroke="#333" stroke-width="0.6" />
<line x1="442.5" y1="27.172500000000014" x2="445.5" y2="27.172500000000014" stroke="#333" stroke-width="0.6" />
<line x1="442.5" y1="41.047500000000014" x2="445.5" y2="41.047500000000014" stroke="#333" stroke-width="0.6" />
<circle cx="444.00" cy="34.11" r="1.6" fill="#fff" stroke="#333" stroke-width="0.7"/>
<rect x="511.80" y="28.53" width="2.6" height="3.2" fill="#fff" stroke="#222" stroke-width="0.8"/>
<path d="M375.2,108.5 L377.2,110.7 L375.2,112.9 L373.2,110.7 Z" fill="#2a2a2a"/>
</g>
</svg>
</body></html>
